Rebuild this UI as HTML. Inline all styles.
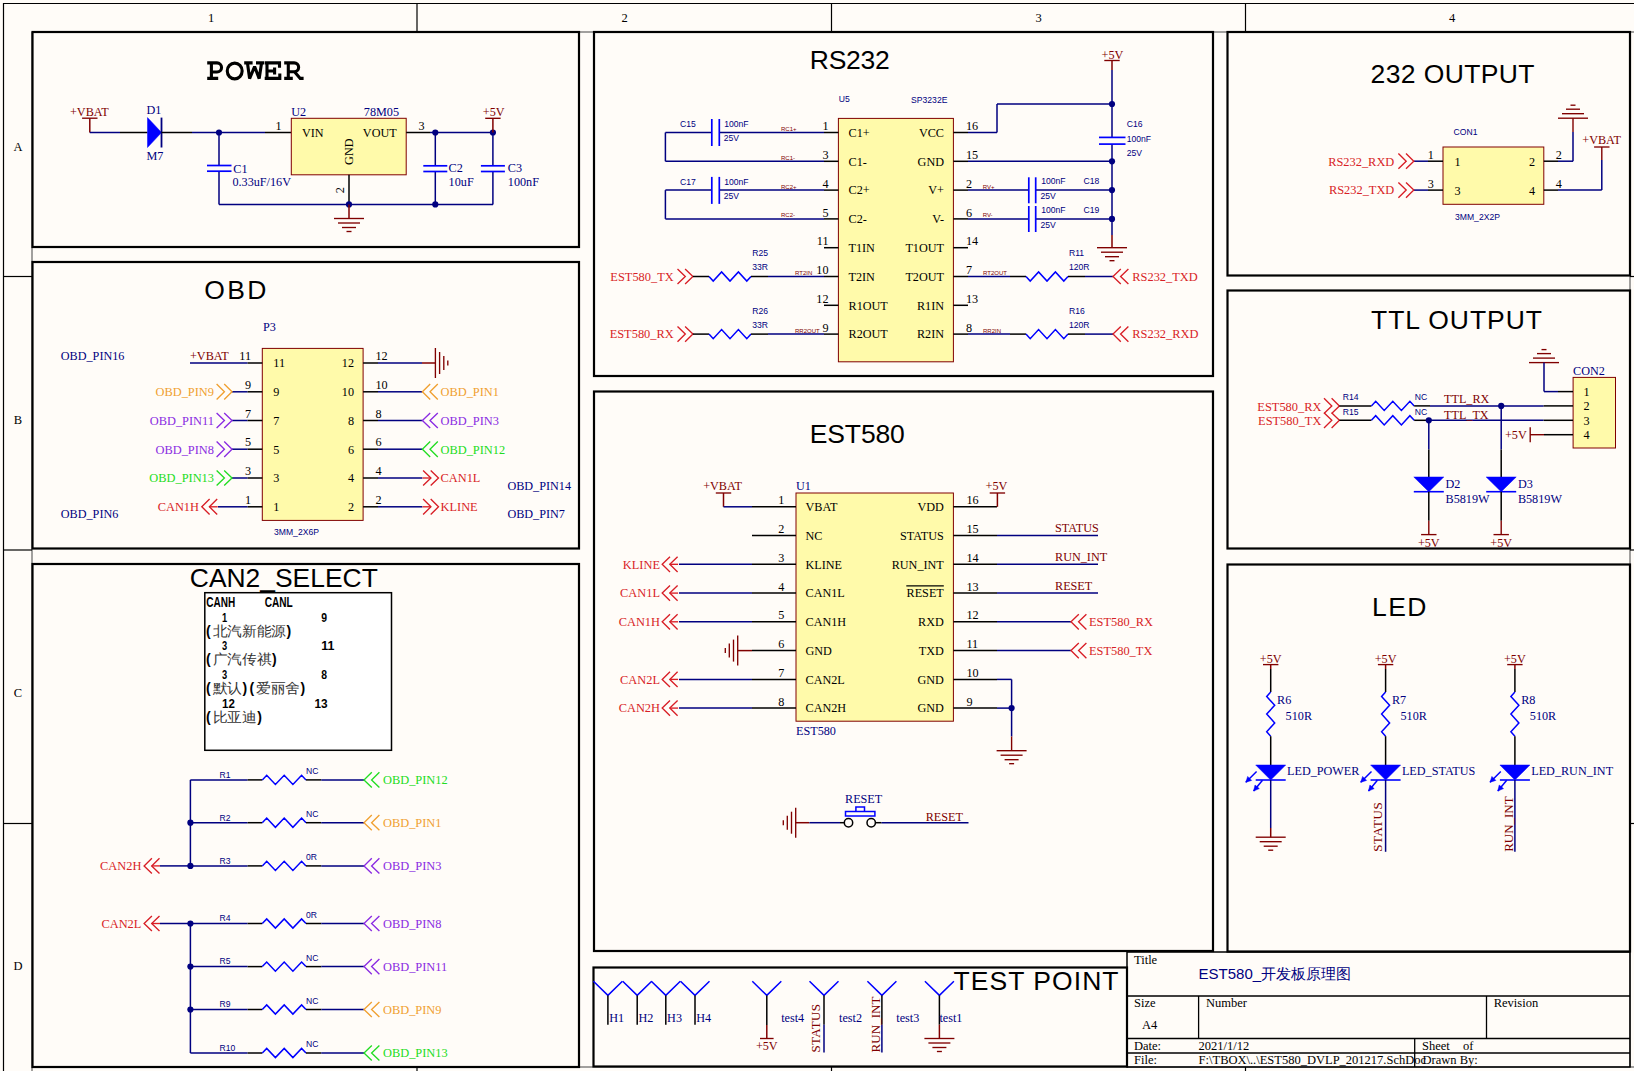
<!DOCTYPE html>
<html><head><meta charset="utf-8"><style>
html,body{margin:0;padding:0;background:#FFFCF8;overflow:hidden;}
svg{display:block;}
</style></head><body>
<svg width="1634" height="1071" viewBox="0 0 1634 1071">
<rect x="0" y="0" width="1634" height="1071" fill="#FFFCF8"/>
<line x1="3.0" y1="3.5" x2="1634.0" y2="3.5" stroke="#000000" stroke-width="1.2" />
<line x1="3.5" y1="3.0" x2="3.5" y2="1071.0" stroke="#000000" stroke-width="1.2" />
<line x1="32.0" y1="32.0" x2="1634.0" y2="32.0" stroke="#444" stroke-width="1" />
<line x1="32.0" y1="32.0" x2="32.0" y2="1071.0" stroke="#444" stroke-width="1" />
<line x1="32.0" y1="1067.0" x2="1634.0" y2="1067.0" stroke="#444" stroke-width="1" />
<line x1="417.0" y1="3.0" x2="417.0" y2="32.0" stroke="#000000" stroke-width="1.2" />
<line x1="417.0" y1="1067.0" x2="417.0" y2="1071.0" stroke="#000000" stroke-width="1.2" />
<line x1="831.5" y1="3.0" x2="831.5" y2="32.0" stroke="#000000" stroke-width="1.2" />
<line x1="831.5" y1="1067.0" x2="831.5" y2="1071.0" stroke="#000000" stroke-width="1.2" />
<line x1="1245.5" y1="3.0" x2="1245.5" y2="32.0" stroke="#000000" stroke-width="1.2" />
<line x1="1245.5" y1="1067.0" x2="1245.5" y2="1071.0" stroke="#000000" stroke-width="1.2" />
<line x1="1630.0" y1="32.0" x2="1630.0" y2="1067.0" stroke="#444" stroke-width="1" />
<line x1="3.0" y1="276.5" x2="32.0" y2="276.5" stroke="#000000" stroke-width="1.2" />
<line x1="1630.0" y1="276.5" x2="1634.0" y2="276.5" stroke="#000000" stroke-width="1.2" />
<line x1="3.0" y1="550.0" x2="32.0" y2="550.0" stroke="#000000" stroke-width="1.2" />
<line x1="1630.0" y1="550.0" x2="1634.0" y2="550.0" stroke="#000000" stroke-width="1.2" />
<line x1="3.0" y1="823.5" x2="32.0" y2="823.5" stroke="#000000" stroke-width="1.2" />
<line x1="1630.0" y1="823.5" x2="1634.0" y2="823.5" stroke="#000000" stroke-width="1.2" />
<text x="211.0" y="22.0" font-family="'Liberation Serif', serif" font-size="12.5" fill="#000000" text-anchor="middle" >1</text>
<text x="624.5" y="22.0" font-family="'Liberation Serif', serif" font-size="12.5" fill="#000000" text-anchor="middle" >2</text>
<text x="1038.5" y="22.0" font-family="'Liberation Serif', serif" font-size="12.5" fill="#000000" text-anchor="middle" >3</text>
<text x="1452.0" y="22.0" font-family="'Liberation Serif', serif" font-size="12.5" fill="#000000" text-anchor="middle" >4</text>
<text x="18.0" y="150.8" font-family="'Liberation Serif', serif" font-size="12.5" fill="#000000" text-anchor="middle" >A</text>
<text x="18.0" y="424.0" font-family="'Liberation Serif', serif" font-size="12.5" fill="#000000" text-anchor="middle" >B</text>
<text x="18.0" y="697.0" font-family="'Liberation Serif', serif" font-size="12.5" fill="#000000" text-anchor="middle" >C</text>
<text x="18.0" y="970.0" font-family="'Liberation Serif', serif" font-size="12.5" fill="#000000" text-anchor="middle" >D</text>
<rect x="32.5" y="32.0" width="546.5" height="215.0" stroke="#000000" stroke-width="2.2" fill="none"/>
<rect x="32.5" y="262.0" width="546.5" height="286.5" stroke="#000000" stroke-width="2.2" fill="none"/>
<rect x="32.5" y="564.0" width="546.5" height="503.0" stroke="#000000" stroke-width="2.2" fill="none"/>
<rect x="594.0" y="32.0" width="619.0" height="344.0" stroke="#000000" stroke-width="2.2" fill="none"/>
<rect x="594.0" y="391.5" width="619.0" height="559.5" stroke="#000000" stroke-width="2.2" fill="none"/>
<rect x="593.5" y="967.5" width="533.5" height="99.0" stroke="#000000" stroke-width="2.2" fill="none"/>
<rect x="1227.5" y="32.0" width="402.5" height="243.5" stroke="#000000" stroke-width="2.2" fill="none"/>
<rect x="1227.5" y="290.5" width="402.5" height="258.0" stroke="#000000" stroke-width="2.2" fill="none"/>
<rect x="1227.5" y="564.5" width="402.5" height="387.0" stroke="#000000" stroke-width="2.2" fill="none"/>
<g fill="none" stroke="#000" stroke-width="3.1" stroke-linecap="butt" stroke-linejoin="miter"><path d="M207.2,62.9 H217 A4.55,4.55 0 0 1 217,72 H211.4 M211.4,62.9 V78.4 M207.2,78.4 H218.2"/><ellipse cx="234.7" cy="71" rx="7.45" ry="7.9"/><path stroke-linejoin="bevel" d="M247.6,64 L249.6,78.6 L254.6,66.6 L259.2,78.6 L261.4,64 M244.2,62.9 H252.6 M256,62.9 H264.1"/><path d="M264.7,62.9 H279.5 V67.8 M267,62.9 V78.4 M268.5,71 H274.6 M274.6,67.4 V74.4 M264.7,78.4 H279.8 V73.6"/><path d="M284.2,62.9 H294.2 A4.45,4.45 0 0 1 294.2,71.8 H288.3 M288.3,62.9 V78.4 M284.2,78.4 H292.8 M294.5,71.8 L300.2,78.4 H303.6"/></g>
<text x="204.3" y="299.2" font-family="'Liberation Sans', sans-serif" font-size="26.5" fill="#000000" text-anchor="start" textLength="62" lengthAdjust="spacing" >OBD</text>
<text x="189.8" y="587.4" font-family="'Liberation Sans', sans-serif" font-size="26.5" fill="#000000" text-anchor="start" textLength="188" lengthAdjust="spacingAndGlyphs" >CAN2_SELECT</text>
<text x="809.8" y="69.2" font-family="'Liberation Sans', sans-serif" font-size="26.5" fill="#000000" text-anchor="start" textLength="80" lengthAdjust="spacing" >RS232</text>
<text x="1370.5" y="83.2" font-family="'Liberation Sans', sans-serif" font-size="26.5" fill="#000000" text-anchor="start" textLength="164" lengthAdjust="spacing" >232 OUTPUT</text>
<text x="1371.0" y="328.7" font-family="'Liberation Sans', sans-serif" font-size="26.5" fill="#000000" text-anchor="start" textLength="171" lengthAdjust="spacing" >TTL OUTPUT</text>
<text x="809.8" y="443.2" font-family="'Liberation Sans', sans-serif" font-size="26.5" fill="#000000" text-anchor="start" textLength="95" lengthAdjust="spacing" >EST580</text>
<text x="1372.0" y="615.6" font-family="'Liberation Sans', sans-serif" font-size="26.5" fill="#000000" text-anchor="start" textLength="54.5" lengthAdjust="spacing" >LED</text>
<text x="953.5" y="989.7" font-family="'Liberation Sans', sans-serif" font-size="26.5" fill="#000000" text-anchor="start" textLength="165" lengthAdjust="spacing" >TEST POINT</text>
<text x="70.0" y="115.7" font-family="'Liberation Serif', serif" font-size="12.2" fill="#800000" text-anchor="start" >+VBAT</text>
<line x1="82.1" y1="118.2" x2="97.5" y2="118.2" stroke="#800000" stroke-width="1.35" />
<line x1="89.8" y1="118.2" x2="89.8" y2="132.5" stroke="#800000" stroke-width="1.5" />
<line x1="89.8" y1="132.5" x2="120.0" y2="132.5" stroke="#000080" stroke-width="1.5" />
<line x1="120.0" y1="132.5" x2="147.5" y2="132.5" stroke="#000000" stroke-width="1.5" />
<polygon points="147.5,117.6 147.5,147.5 161.5,132.5" stroke="#0000FF" stroke-width="0.5" fill="#0000FF" stroke-linejoin="miter"/>
<line x1="161.5" y1="117.6" x2="161.5" y2="147.5" stroke="#000080" stroke-width="1.8" />
<line x1="161.5" y1="132.5" x2="192.0" y2="132.5" stroke="#000000" stroke-width="1.5" />
<line x1="192.0" y1="132.5" x2="265.0" y2="132.5" stroke="#000080" stroke-width="1.5" />
<line x1="265.0" y1="132.5" x2="291.3" y2="132.5" stroke="#000000" stroke-width="1.5" />
<text x="146.5" y="113.9" font-family="'Liberation Serif', serif" font-size="12.2" fill="#000080" text-anchor="start" >D1</text>
<text x="146.5" y="159.6" font-family="'Liberation Serif', serif" font-size="12.2" fill="#000080" text-anchor="start" >M7</text>
<circle cx="219.0" cy="132.5" r="3.1" fill="#000080"/>
<line x1="219.0" y1="132.5" x2="219.0" y2="165.5" stroke="#000080" stroke-width="1.5" />
<line x1="219.0" y1="171.2" x2="219.0" y2="204.4" stroke="#000080" stroke-width="1.5" />
<line x1="207.0" y1="165.5" x2="231.5" y2="165.5" stroke="#0000FF" stroke-width="1.7" />
<line x1="207.0" y1="171.2" x2="231.5" y2="171.2" stroke="#0000FF" stroke-width="1.7" />
<text x="233.3" y="172.7" font-family="'Liberation Serif', serif" font-size="12.2" fill="#000080" text-anchor="start" >C1</text>
<text x="232.4" y="185.7" font-family="'Liberation Serif', serif" font-size="12.2" fill="#000080" text-anchor="start" >0.33uF/16V</text>
<rect x="291.3" y="118.3" width="114.9" height="56.5" stroke="#800000" stroke-width="1.0" fill="#FFFAAA"/>
<text x="291.3" y="115.7" font-family="'Liberation Serif', serif" font-size="12.2" fill="#000080" text-anchor="start" >U2</text>
<text x="363.8" y="115.7" font-family="'Liberation Serif', serif" font-size="12.2" fill="#000080" text-anchor="start" >78M05</text>
<text x="302.0" y="136.8" font-family="'Liberation Serif', serif" font-size="12.2" fill="#000000" text-anchor="start" >VIN</text>
<text x="396.7" y="136.8" font-family="'Liberation Serif', serif" font-size="12.2" fill="#000000" text-anchor="end" >VOUT</text>
<text x="352.7" y="151.7" font-family="'Liberation Serif', serif" font-size="12.2" fill="#000000" text-anchor="middle" transform="rotate(-90 352.7 151.7)" >GND</text>
<text x="275.6" y="129.8" font-family="'Liberation Serif', serif" font-size="12.2" fill="#000000" text-anchor="start" >1</text>
<text x="418.6" y="129.8" font-family="'Liberation Serif', serif" font-size="12.2" fill="#000000" text-anchor="start" >3</text>
<line x1="406.2" y1="132.5" x2="430.0" y2="132.5" stroke="#000000" stroke-width="1.5" />
<line x1="430.0" y1="132.5" x2="493.0" y2="132.5" stroke="#000080" stroke-width="1.5" />
<line x1="349.0" y1="174.8" x2="349.0" y2="204.4" stroke="#000000" stroke-width="1.5" />
<text x="344.5" y="190.2" font-family="'Liberation Serif', serif" font-size="12.2" fill="#000000" text-anchor="middle" transform="rotate(-90 344.5 190.2)" >2</text>
<line x1="219.0" y1="204.4" x2="493.0" y2="204.4" stroke="#000080" stroke-width="1.5" />
<circle cx="349.0" cy="204.4" r="3.1" fill="#000080"/>
<circle cx="435.3" cy="132.5" r="3.1" fill="#000080"/>
<circle cx="435.3" cy="204.4" r="3.1" fill="#000080"/>
<circle cx="492.9" cy="132.5" r="3.1" fill="#000080"/>
<line x1="435.3" y1="132.5" x2="435.3" y2="165.8" stroke="#000080" stroke-width="1.5" />
<line x1="435.3" y1="171.5" x2="435.3" y2="204.4" stroke="#000080" stroke-width="1.5" />
<line x1="423.3" y1="165.8" x2="447.3" y2="165.8" stroke="#0000FF" stroke-width="1.7" />
<line x1="423.3" y1="171.5" x2="447.3" y2="171.5" stroke="#0000FF" stroke-width="1.7" />
<line x1="492.9" y1="132.5" x2="492.9" y2="165.8" stroke="#000080" stroke-width="1.5" />
<line x1="492.9" y1="171.5" x2="492.9" y2="204.4" stroke="#000080" stroke-width="1.5" />
<line x1="480.9" y1="165.8" x2="504.9" y2="165.8" stroke="#0000FF" stroke-width="1.7" />
<line x1="480.9" y1="171.5" x2="504.9" y2="171.5" stroke="#0000FF" stroke-width="1.7" />
<text x="448.6" y="172.3" font-family="'Liberation Serif', serif" font-size="12.2" fill="#000080" text-anchor="start" >C2</text>
<text x="448.6" y="185.6" font-family="'Liberation Serif', serif" font-size="12.2" fill="#000080" text-anchor="start" >10uF</text>
<text x="507.8" y="172.3" font-family="'Liberation Serif', serif" font-size="12.2" fill="#000080" text-anchor="start" >C3</text>
<text x="507.8" y="185.6" font-family="'Liberation Serif', serif" font-size="12.2" fill="#000080" text-anchor="start" >100nF</text>
<text x="482.8" y="115.7" font-family="'Liberation Serif', serif" font-size="12.2" fill="#800000" text-anchor="start" >+5V</text>
<line x1="485.2" y1="118.3" x2="500.6" y2="118.3" stroke="#800000" stroke-width="1.35" />
<line x1="492.9" y1="118.3" x2="492.9" y2="132.5" stroke="#800000" stroke-width="1.5" />
<line x1="349.0" y1="204.4" x2="349.0" y2="218.5" stroke="#800000" stroke-width="1.5" />
<line x1="334.0" y1="218.5" x2="364.0" y2="218.5" stroke="#800000" stroke-width="1.35" />
<line x1="338.0" y1="223.0" x2="360.0" y2="223.0" stroke="#800000" stroke-width="1.35" />
<line x1="342.0" y1="227.5" x2="356.0" y2="227.5" stroke="#800000" stroke-width="1.35" />
<line x1="346.5" y1="231.5" x2="351.5" y2="231.5" stroke="#800000" stroke-width="1.35" />
<text x="263.0" y="331.0" font-family="'Liberation Serif', serif" font-size="12.2" fill="#000080" text-anchor="start" >P3</text>
<rect x="262.3" y="348.4" width="100.8" height="172.0" stroke="#800000" stroke-width="1.0" fill="#FFFAAA"/>
<line x1="232.0" y1="363.0" x2="247.6" y2="363.0" stroke="#000080" stroke-width="1.5" />
<line x1="247.6" y1="363.0" x2="262.3" y2="363.0" stroke="#000000" stroke-width="1.5" />
<line x1="363.1" y1="363.0" x2="378.0" y2="363.0" stroke="#000000" stroke-width="1.5" />
<line x1="378.0" y1="363.0" x2="393.0" y2="363.0" stroke="#000080" stroke-width="1.5" />
<text x="251.0" y="360.0" font-family="'Liberation Serif', serif" font-size="12.2" fill="#000000" text-anchor="end" >11</text>
<text x="375.4" y="360.0" font-family="'Liberation Serif', serif" font-size="12.2" fill="#000000" text-anchor="start" >12</text>
<text x="273.3" y="367.3" font-family="'Liberation Serif', serif" font-size="12.2" fill="#000000" text-anchor="start" >11</text>
<text x="354.0" y="367.3" font-family="'Liberation Serif', serif" font-size="12.2" fill="#000000" text-anchor="end" >12</text>
<line x1="232.0" y1="391.8" x2="247.6" y2="391.8" stroke="#000080" stroke-width="1.5" />
<line x1="247.6" y1="391.8" x2="262.3" y2="391.8" stroke="#000000" stroke-width="1.5" />
<line x1="363.1" y1="391.8" x2="378.0" y2="391.8" stroke="#000000" stroke-width="1.5" />
<line x1="378.0" y1="391.8" x2="393.0" y2="391.8" stroke="#000080" stroke-width="1.5" />
<text x="251.0" y="388.8" font-family="'Liberation Serif', serif" font-size="12.2" fill="#000000" text-anchor="end" >9</text>
<text x="375.4" y="388.8" font-family="'Liberation Serif', serif" font-size="12.2" fill="#000000" text-anchor="start" >10</text>
<text x="273.3" y="396.1" font-family="'Liberation Serif', serif" font-size="12.2" fill="#000000" text-anchor="start" >9</text>
<text x="354.0" y="396.1" font-family="'Liberation Serif', serif" font-size="12.2" fill="#000000" text-anchor="end" >10</text>
<line x1="232.0" y1="420.5" x2="247.6" y2="420.5" stroke="#000080" stroke-width="1.5" />
<line x1="247.6" y1="420.5" x2="262.3" y2="420.5" stroke="#000000" stroke-width="1.5" />
<line x1="363.1" y1="420.5" x2="378.0" y2="420.5" stroke="#000000" stroke-width="1.5" />
<line x1="378.0" y1="420.5" x2="393.0" y2="420.5" stroke="#000080" stroke-width="1.5" />
<text x="251.0" y="417.5" font-family="'Liberation Serif', serif" font-size="12.2" fill="#000000" text-anchor="end" >7</text>
<text x="375.4" y="417.5" font-family="'Liberation Serif', serif" font-size="12.2" fill="#000000" text-anchor="start" >8</text>
<text x="273.3" y="424.8" font-family="'Liberation Serif', serif" font-size="12.2" fill="#000000" text-anchor="start" >7</text>
<text x="354.0" y="424.8" font-family="'Liberation Serif', serif" font-size="12.2" fill="#000000" text-anchor="end" >8</text>
<line x1="232.0" y1="449.2" x2="247.6" y2="449.2" stroke="#000080" stroke-width="1.5" />
<line x1="247.6" y1="449.2" x2="262.3" y2="449.2" stroke="#000000" stroke-width="1.5" />
<line x1="363.1" y1="449.2" x2="378.0" y2="449.2" stroke="#000000" stroke-width="1.5" />
<line x1="378.0" y1="449.2" x2="393.0" y2="449.2" stroke="#000080" stroke-width="1.5" />
<text x="251.0" y="446.2" font-family="'Liberation Serif', serif" font-size="12.2" fill="#000000" text-anchor="end" >5</text>
<text x="375.4" y="446.2" font-family="'Liberation Serif', serif" font-size="12.2" fill="#000000" text-anchor="start" >6</text>
<text x="273.3" y="453.6" font-family="'Liberation Serif', serif" font-size="12.2" fill="#000000" text-anchor="start" >5</text>
<text x="354.0" y="453.6" font-family="'Liberation Serif', serif" font-size="12.2" fill="#000000" text-anchor="end" >6</text>
<line x1="232.0" y1="478.0" x2="247.6" y2="478.0" stroke="#000080" stroke-width="1.5" />
<line x1="247.6" y1="478.0" x2="262.3" y2="478.0" stroke="#000000" stroke-width="1.5" />
<line x1="363.1" y1="478.0" x2="378.0" y2="478.0" stroke="#000000" stroke-width="1.5" />
<line x1="378.0" y1="478.0" x2="393.0" y2="478.0" stroke="#000080" stroke-width="1.5" />
<text x="251.0" y="475.0" font-family="'Liberation Serif', serif" font-size="12.2" fill="#000000" text-anchor="end" >3</text>
<text x="375.4" y="475.0" font-family="'Liberation Serif', serif" font-size="12.2" fill="#000000" text-anchor="start" >4</text>
<text x="273.3" y="482.3" font-family="'Liberation Serif', serif" font-size="12.2" fill="#000000" text-anchor="start" >3</text>
<text x="354.0" y="482.3" font-family="'Liberation Serif', serif" font-size="12.2" fill="#000000" text-anchor="end" >4</text>
<line x1="232.0" y1="506.8" x2="247.6" y2="506.8" stroke="#000080" stroke-width="1.5" />
<line x1="247.6" y1="506.8" x2="262.3" y2="506.8" stroke="#000000" stroke-width="1.5" />
<line x1="363.1" y1="506.8" x2="378.0" y2="506.8" stroke="#000000" stroke-width="1.5" />
<line x1="378.0" y1="506.8" x2="393.0" y2="506.8" stroke="#000080" stroke-width="1.5" />
<text x="251.0" y="503.8" font-family="'Liberation Serif', serif" font-size="12.2" fill="#000000" text-anchor="end" >1</text>
<text x="375.4" y="503.8" font-family="'Liberation Serif', serif" font-size="12.2" fill="#000000" text-anchor="start" >2</text>
<text x="273.3" y="511.1" font-family="'Liberation Serif', serif" font-size="12.2" fill="#000000" text-anchor="start" >1</text>
<text x="354.0" y="511.1" font-family="'Liberation Serif', serif" font-size="12.2" fill="#000000" text-anchor="end" >2</text>
<line x1="190.0" y1="363.0" x2="232.0" y2="363.0" stroke="#000080" stroke-width="1.5" />
<text x="190.0" y="360.0" font-family="'Liberation Serif', serif" font-size="12.2" fill="#800000" text-anchor="start" >+VBAT</text>
<line x1="393.0" y1="363.0" x2="422.0" y2="363.0" stroke="#000080" stroke-width="1.5" />
<line x1="422.0" y1="363.0" x2="435.4" y2="363.0" stroke="#800000" stroke-width="1.5" />
<line x1="435.4" y1="348.0" x2="435.4" y2="378.0" stroke="#800000" stroke-width="1.35" />
<line x1="439.6" y1="352.0" x2="439.6" y2="374.0" stroke="#800000" stroke-width="1.35" />
<line x1="443.8" y1="356.0" x2="443.8" y2="370.0" stroke="#800000" stroke-width="1.35" />
<line x1="447.8" y1="360.5" x2="447.8" y2="365.5" stroke="#800000" stroke-width="1.35" />
<polyline points="224.2,384.1 232.0,391.8 224.2,399.4" stroke="#F0A030" stroke-width="1.35" fill="none" stroke-linejoin="miter"/>
<polyline points="216.6,384.1 224.4,391.8 216.6,399.4" stroke="#F0A030" stroke-width="1.35" fill="none" stroke-linejoin="miter"/>
<text x="214.0" y="396.1" font-family="'Liberation Serif', serif" font-size="12.4" fill="#F0A030" text-anchor="end" >OBD_PIN9</text>
<polyline points="224.2,412.9 232.0,420.5 224.2,428.1" stroke="#8A2BE2" stroke-width="1.35" fill="none" stroke-linejoin="miter"/>
<polyline points="216.6,412.9 224.4,420.5 216.6,428.1" stroke="#8A2BE2" stroke-width="1.35" fill="none" stroke-linejoin="miter"/>
<text x="214.0" y="424.8" font-family="'Liberation Serif', serif" font-size="12.4" fill="#8A2BE2" text-anchor="end" >OBD_PIN11</text>
<polyline points="224.2,441.6 232.0,449.2 224.2,456.9" stroke="#8A2BE2" stroke-width="1.35" fill="none" stroke-linejoin="miter"/>
<polyline points="216.6,441.6 224.4,449.2 216.6,456.9" stroke="#8A2BE2" stroke-width="1.35" fill="none" stroke-linejoin="miter"/>
<text x="214.0" y="453.6" font-family="'Liberation Serif', serif" font-size="12.4" fill="#8A2BE2" text-anchor="end" >OBD_PIN8</text>
<polyline points="224.2,470.4 232.0,478.0 224.2,485.6" stroke="#22DD22" stroke-width="1.35" fill="none" stroke-linejoin="miter"/>
<polyline points="216.6,470.4 224.4,478.0 216.6,485.6" stroke="#22DD22" stroke-width="1.35" fill="none" stroke-linejoin="miter"/>
<text x="214.0" y="482.3" font-family="'Liberation Serif', serif" font-size="12.4" fill="#22DD22" text-anchor="end" >OBD_PIN13</text>
<polyline points="209.6,499.1 201.8,506.8 209.6,514.4" stroke="#D81E26" stroke-width="1.35" fill="none" stroke-linejoin="miter"/>
<polyline points="217.2,499.1 209.4,506.8 217.2,514.4" stroke="#D81E26" stroke-width="1.35" fill="none" stroke-linejoin="miter"/>
<line x1="209.4" y1="506.8" x2="217.7" y2="506.8" stroke="#D81E26" stroke-width="1.35" />
<line x1="218.0" y1="506.8" x2="232.0" y2="506.8" stroke="#000080" stroke-width="1.5" />
<text x="199.0" y="511.1" font-family="'Liberation Serif', serif" font-size="12.4" fill="#D81E26" text-anchor="end" >CAN1H</text>
<line x1="393.0" y1="391.8" x2="422.4" y2="391.8" stroke="#000080" stroke-width="1.5" />
<polyline points="430.2,384.1 422.4,391.8 430.2,399.4" stroke="#F0A030" stroke-width="1.35" fill="none" stroke-linejoin="miter"/>
<polyline points="437.8,384.1 430.0,391.8 437.8,399.4" stroke="#F0A030" stroke-width="1.35" fill="none" stroke-linejoin="miter"/>
<text x="440.5" y="396.1" font-family="'Liberation Serif', serif" font-size="12.4" fill="#F0A030" text-anchor="start" >OBD_PIN1</text>
<line x1="393.0" y1="420.5" x2="422.4" y2="420.5" stroke="#000080" stroke-width="1.5" />
<polyline points="430.2,412.9 422.4,420.5 430.2,428.1" stroke="#8A2BE2" stroke-width="1.35" fill="none" stroke-linejoin="miter"/>
<polyline points="437.8,412.9 430.0,420.5 437.8,428.1" stroke="#8A2BE2" stroke-width="1.35" fill="none" stroke-linejoin="miter"/>
<text x="440.5" y="424.8" font-family="'Liberation Serif', serif" font-size="12.4" fill="#8A2BE2" text-anchor="start" >OBD_PIN3</text>
<line x1="393.0" y1="449.2" x2="422.4" y2="449.2" stroke="#000080" stroke-width="1.5" />
<polyline points="430.2,441.6 422.4,449.2 430.2,456.9" stroke="#22DD22" stroke-width="1.35" fill="none" stroke-linejoin="miter"/>
<polyline points="437.8,441.6 430.0,449.2 437.8,456.9" stroke="#22DD22" stroke-width="1.35" fill="none" stroke-linejoin="miter"/>
<text x="440.5" y="453.6" font-family="'Liberation Serif', serif" font-size="12.4" fill="#22DD22" text-anchor="start" >OBD_PIN12</text>
<line x1="393.0" y1="478.0" x2="422.4" y2="478.0" stroke="#000080" stroke-width="1.5" />
<polyline points="430.7,470.4 438.5,478.0 430.7,485.6" stroke="#D81E26" stroke-width="1.35" fill="none" stroke-linejoin="miter"/>
<polyline points="423.1,470.4 430.9,478.0 423.1,485.6" stroke="#D81E26" stroke-width="1.35" fill="none" stroke-linejoin="miter"/>
<line x1="422.6" y1="478.0" x2="430.9" y2="478.0" stroke="#D81E26" stroke-width="1.35" />
<text x="440.5" y="482.3" font-family="'Liberation Serif', serif" font-size="12.4" fill="#D81E26" text-anchor="start" >CAN1L</text>
<line x1="393.0" y1="506.8" x2="422.4" y2="506.8" stroke="#000080" stroke-width="1.5" />
<polyline points="430.7,499.1 438.5,506.8 430.7,514.4" stroke="#D81E26" stroke-width="1.35" fill="none" stroke-linejoin="miter"/>
<polyline points="423.1,499.1 430.9,506.8 423.1,514.4" stroke="#D81E26" stroke-width="1.35" fill="none" stroke-linejoin="miter"/>
<line x1="422.6" y1="506.8" x2="430.9" y2="506.8" stroke="#D81E26" stroke-width="1.35" />
<text x="440.5" y="511.1" font-family="'Liberation Serif', serif" font-size="12.4" fill="#D81E26" text-anchor="start" >KLINE</text>
<text x="60.8" y="360.0" font-family="'Liberation Serif', serif" font-size="12.2" fill="#000080" text-anchor="start" >OBD_PIN16</text>
<text x="60.8" y="517.7" font-family="'Liberation Serif', serif" font-size="12.2" fill="#000080" text-anchor="start" >OBD_PIN6</text>
<text x="507.4" y="489.6" font-family="'Liberation Serif', serif" font-size="12.2" fill="#000080" text-anchor="start" >OBD_PIN14</text>
<text x="507.4" y="517.7" font-family="'Liberation Serif', serif" font-size="12.2" fill="#000080" text-anchor="start" >OBD_PIN7</text>
<text x="274.0" y="535.0" font-family="'Liberation Sans', sans-serif" font-size="8.6" fill="#000080" text-anchor="start" >3MM_2X6P</text>
<rect x="204.8" y="592.7" width="186.7" height="157.6" stroke="#000000" stroke-width="1.5" fill="#FFFFFF"/>
<text x="206.2" y="607.2" font-family="'Liberation Sans', sans-serif" font-size="14.3" fill="#000000" text-anchor="start" font-weight="bold" textLength="29" lengthAdjust="spacingAndGlyphs" >CANH</text>
<text x="264.7" y="607.2" font-family="'Liberation Sans', sans-serif" font-size="14.3" fill="#000000" text-anchor="start" font-weight="bold" textLength="28" lengthAdjust="spacingAndGlyphs" >CANL</text>
<text x="222.0" y="621.5" font-family="'Liberation Sans', sans-serif" font-size="13.5" fill="#000000" text-anchor="start" font-weight="bold" textLength="5.2" lengthAdjust="spacingAndGlyphs" >1</text>
<text x="321.3" y="621.5" font-family="'Liberation Sans', sans-serif" font-size="13.5" fill="#000000" text-anchor="start" font-weight="bold" textLength="5.8" lengthAdjust="spacingAndGlyphs" >9</text>
<text x="222.0" y="650.0" font-family="'Liberation Sans', sans-serif" font-size="13.5" fill="#000000" text-anchor="start" font-weight="bold" textLength="5.2" lengthAdjust="spacingAndGlyphs" >3</text>
<text x="321.3" y="650.0" font-family="'Liberation Sans', sans-serif" font-size="13.5" fill="#000000" text-anchor="start" font-weight="bold" textLength="13.2" lengthAdjust="spacingAndGlyphs" >11</text>
<text x="222.0" y="679.0" font-family="'Liberation Sans', sans-serif" font-size="13.5" fill="#000000" text-anchor="start" font-weight="bold" textLength="5.2" lengthAdjust="spacingAndGlyphs" >3</text>
<text x="321.3" y="679.0" font-family="'Liberation Sans', sans-serif" font-size="13.5" fill="#000000" text-anchor="start" font-weight="bold" textLength="5.8" lengthAdjust="spacingAndGlyphs" >8</text>
<text x="222.0" y="708.0" font-family="'Liberation Sans', sans-serif" font-size="13.5" fill="#000000" text-anchor="start" font-weight="bold" textLength="12.8" lengthAdjust="spacingAndGlyphs" >12</text>
<text x="314.4" y="708.0" font-family="'Liberation Sans', sans-serif" font-size="13.5" fill="#000000" text-anchor="start" font-weight="bold" textLength="13.2" lengthAdjust="spacingAndGlyphs" >13</text>
<text x="206.0" y="635.5" font-family="'Liberation Sans', sans-serif" font-size="14" fill="#000000" text-anchor="start" font-weight="bold" >(</text>
<text x="212.6" y="635.5" font-family="'Liberation Sans', sans-serif" font-size="14" fill="#333" text-anchor="start" textLength="73.5" lengthAdjust="spacingAndGlyphs" >北汽新能源</text>
<text x="286.6" y="635.5" font-family="'Liberation Sans', sans-serif" font-size="14" fill="#000000" text-anchor="start" font-weight="bold" >)</text>
<text x="206.0" y="664.3" font-family="'Liberation Sans', sans-serif" font-size="14" fill="#000000" text-anchor="start" font-weight="bold" >(</text>
<text x="212.6" y="664.3" font-family="'Liberation Sans', sans-serif" font-size="14" fill="#333" text-anchor="start" textLength="58.8" lengthAdjust="spacingAndGlyphs" >广汽传祺</text>
<text x="271.9" y="664.3" font-family="'Liberation Sans', sans-serif" font-size="14" fill="#000000" text-anchor="start" font-weight="bold" >)</text>
<text x="206.0" y="693.0" font-family="'Liberation Sans', sans-serif" font-size="14" fill="#000000" text-anchor="start" font-weight="bold" >(</text>
<text x="212.6" y="693.0" font-family="'Liberation Sans', sans-serif" font-size="14" fill="#333" text-anchor="start" textLength="29.4" lengthAdjust="spacingAndGlyphs" >默认</text>
<text x="242.5" y="693.0" font-family="'Liberation Sans', sans-serif" font-size="14" fill="#000000" text-anchor="start" font-weight="bold" >)</text>
<text x="249.4" y="693.0" font-family="'Liberation Sans', sans-serif" font-size="14" fill="#000000" text-anchor="start" font-weight="bold" >(</text>
<text x="256.0" y="693.0" font-family="'Liberation Sans', sans-serif" font-size="14" fill="#333" text-anchor="start" textLength="44.099999999999994" lengthAdjust="spacingAndGlyphs" >爱丽舍</text>
<text x="300.6" y="693.0" font-family="'Liberation Sans', sans-serif" font-size="14" fill="#000000" text-anchor="start" font-weight="bold" >)</text>
<text x="206.0" y="721.8" font-family="'Liberation Sans', sans-serif" font-size="14" fill="#000000" text-anchor="start" font-weight="bold" >(</text>
<text x="212.6" y="721.8" font-family="'Liberation Sans', sans-serif" font-size="14" fill="#333" text-anchor="start" textLength="44.099999999999994" lengthAdjust="spacingAndGlyphs" >比亚迪</text>
<text x="257.2" y="721.8" font-family="'Liberation Sans', sans-serif" font-size="14" fill="#000000" text-anchor="start" font-weight="bold" >)</text>
<line x1="190.4" y1="779.9" x2="247.6" y2="779.9" stroke="#000080" stroke-width="1.5" />
<line x1="247.6" y1="779.9" x2="262.3" y2="779.9" stroke="#000000" stroke-width="1.5" />
<polyline points="262.3,779.9 266.7,775.3 275.4,784.5 284.2,775.3 292.9,784.5 301.6,775.3 306.0,779.9" stroke="#0000FF" stroke-width="1.5" fill="none" stroke-linejoin="miter"/>
<line x1="306.0" y1="779.9" x2="321.3" y2="779.9" stroke="#000000" stroke-width="1.5" />
<line x1="321.3" y1="779.9" x2="364.0" y2="779.9" stroke="#000080" stroke-width="1.5" />
<polyline points="371.8,772.3 364.0,779.9 371.8,787.5" stroke="#22DD22" stroke-width="1.35" fill="none" stroke-linejoin="miter"/>
<polyline points="379.4,772.3 371.6,779.9 379.4,787.5" stroke="#22DD22" stroke-width="1.35" fill="none" stroke-linejoin="miter"/>
<text x="383.0" y="784.2" font-family="'Liberation Serif', serif" font-size="12.4" fill="#22DD22" text-anchor="start" >OBD_PIN12</text>
<text x="219.5" y="777.7" font-family="'Liberation Sans', sans-serif" font-size="8.6" fill="#000080" text-anchor="start" >R1</text>
<text x="306.0" y="773.9" font-family="'Liberation Sans', sans-serif" font-size="8.6" fill="#000080" text-anchor="start" >NC</text>
<line x1="190.4" y1="822.7" x2="247.6" y2="822.7" stroke="#000080" stroke-width="1.5" />
<line x1="247.6" y1="822.7" x2="262.3" y2="822.7" stroke="#000000" stroke-width="1.5" />
<polyline points="262.3,822.7 266.7,818.1 275.4,827.3 284.2,818.1 292.9,827.3 301.6,818.1 306.0,822.7" stroke="#0000FF" stroke-width="1.5" fill="none" stroke-linejoin="miter"/>
<line x1="306.0" y1="822.7" x2="321.3" y2="822.7" stroke="#000000" stroke-width="1.5" />
<line x1="321.3" y1="822.7" x2="364.0" y2="822.7" stroke="#000080" stroke-width="1.5" />
<polyline points="371.8,815.1 364.0,822.7 371.8,830.3" stroke="#F0A030" stroke-width="1.35" fill="none" stroke-linejoin="miter"/>
<polyline points="379.4,815.1 371.6,822.7 379.4,830.3" stroke="#F0A030" stroke-width="1.35" fill="none" stroke-linejoin="miter"/>
<text x="383.0" y="827.0" font-family="'Liberation Serif', serif" font-size="12.4" fill="#F0A030" text-anchor="start" >OBD_PIN1</text>
<text x="219.5" y="820.5" font-family="'Liberation Sans', sans-serif" font-size="8.6" fill="#000080" text-anchor="start" >R2</text>
<text x="306.0" y="816.7" font-family="'Liberation Sans', sans-serif" font-size="8.6" fill="#000080" text-anchor="start" >NC</text>
<line x1="190.4" y1="865.9" x2="247.6" y2="865.9" stroke="#000080" stroke-width="1.5" />
<line x1="247.6" y1="865.9" x2="262.3" y2="865.9" stroke="#000000" stroke-width="1.5" />
<polyline points="262.3,865.9 266.7,861.3 275.4,870.5 284.2,861.3 292.9,870.5 301.6,861.3 306.0,865.9" stroke="#0000FF" stroke-width="1.5" fill="none" stroke-linejoin="miter"/>
<line x1="306.0" y1="865.9" x2="321.3" y2="865.9" stroke="#000000" stroke-width="1.5" />
<line x1="321.3" y1="865.9" x2="364.0" y2="865.9" stroke="#000080" stroke-width="1.5" />
<polyline points="371.8,858.3 364.0,865.9 371.8,873.5" stroke="#8A2BE2" stroke-width="1.35" fill="none" stroke-linejoin="miter"/>
<polyline points="379.4,858.3 371.6,865.9 379.4,873.5" stroke="#8A2BE2" stroke-width="1.35" fill="none" stroke-linejoin="miter"/>
<text x="383.0" y="870.2" font-family="'Liberation Serif', serif" font-size="12.4" fill="#8A2BE2" text-anchor="start" >OBD_PIN3</text>
<text x="219.5" y="863.7" font-family="'Liberation Sans', sans-serif" font-size="8.6" fill="#000080" text-anchor="start" >R3</text>
<text x="306.0" y="859.9" font-family="'Liberation Sans', sans-serif" font-size="8.6" fill="#000080" text-anchor="start" >0R</text>
<line x1="190.4" y1="923.5" x2="247.6" y2="923.5" stroke="#000080" stroke-width="1.5" />
<line x1="247.6" y1="923.5" x2="262.3" y2="923.5" stroke="#000000" stroke-width="1.5" />
<polyline points="262.3,923.5 266.7,918.9 275.4,928.1 284.2,918.9 292.9,928.1 301.6,918.9 306.0,923.5" stroke="#0000FF" stroke-width="1.5" fill="none" stroke-linejoin="miter"/>
<line x1="306.0" y1="923.5" x2="321.3" y2="923.5" stroke="#000000" stroke-width="1.5" />
<line x1="321.3" y1="923.5" x2="364.0" y2="923.5" stroke="#000080" stroke-width="1.5" />
<polyline points="371.8,915.9 364.0,923.5 371.8,931.1" stroke="#8A2BE2" stroke-width="1.35" fill="none" stroke-linejoin="miter"/>
<polyline points="379.4,915.9 371.6,923.5 379.4,931.1" stroke="#8A2BE2" stroke-width="1.35" fill="none" stroke-linejoin="miter"/>
<text x="383.0" y="927.8" font-family="'Liberation Serif', serif" font-size="12.4" fill="#8A2BE2" text-anchor="start" >OBD_PIN8</text>
<text x="219.5" y="921.3" font-family="'Liberation Sans', sans-serif" font-size="8.6" fill="#000080" text-anchor="start" >R4</text>
<text x="306.0" y="917.5" font-family="'Liberation Sans', sans-serif" font-size="8.6" fill="#000080" text-anchor="start" >0R</text>
<line x1="190.4" y1="966.6" x2="247.6" y2="966.6" stroke="#000080" stroke-width="1.5" />
<line x1="247.6" y1="966.6" x2="262.3" y2="966.6" stroke="#000000" stroke-width="1.5" />
<polyline points="262.3,966.6 266.7,962.0 275.4,971.2 284.2,962.0 292.9,971.2 301.6,962.0 306.0,966.6" stroke="#0000FF" stroke-width="1.5" fill="none" stroke-linejoin="miter"/>
<line x1="306.0" y1="966.6" x2="321.3" y2="966.6" stroke="#000000" stroke-width="1.5" />
<line x1="321.3" y1="966.6" x2="364.0" y2="966.6" stroke="#000080" stroke-width="1.5" />
<polyline points="371.8,959.0 364.0,966.6 371.8,974.2" stroke="#8A2BE2" stroke-width="1.35" fill="none" stroke-linejoin="miter"/>
<polyline points="379.4,959.0 371.6,966.6 379.4,974.2" stroke="#8A2BE2" stroke-width="1.35" fill="none" stroke-linejoin="miter"/>
<text x="383.0" y="970.9" font-family="'Liberation Serif', serif" font-size="12.4" fill="#8A2BE2" text-anchor="start" >OBD_PIN11</text>
<text x="219.5" y="964.4" font-family="'Liberation Sans', sans-serif" font-size="8.6" fill="#000080" text-anchor="start" >R5</text>
<text x="306.0" y="960.6" font-family="'Liberation Sans', sans-serif" font-size="8.6" fill="#000080" text-anchor="start" >NC</text>
<line x1="190.4" y1="1009.5" x2="247.6" y2="1009.5" stroke="#000080" stroke-width="1.5" />
<line x1="247.6" y1="1009.5" x2="262.3" y2="1009.5" stroke="#000000" stroke-width="1.5" />
<polyline points="262.3,1009.5 266.7,1004.9 275.4,1014.1 284.2,1004.9 292.9,1014.1 301.6,1004.9 306.0,1009.5" stroke="#0000FF" stroke-width="1.5" fill="none" stroke-linejoin="miter"/>
<line x1="306.0" y1="1009.5" x2="321.3" y2="1009.5" stroke="#000000" stroke-width="1.5" />
<line x1="321.3" y1="1009.5" x2="364.0" y2="1009.5" stroke="#000080" stroke-width="1.5" />
<polyline points="371.8,1001.9 364.0,1009.5 371.8,1017.1" stroke="#F0A030" stroke-width="1.35" fill="none" stroke-linejoin="miter"/>
<polyline points="379.4,1001.9 371.6,1009.5 379.4,1017.1" stroke="#F0A030" stroke-width="1.35" fill="none" stroke-linejoin="miter"/>
<text x="383.0" y="1013.8" font-family="'Liberation Serif', serif" font-size="12.4" fill="#F0A030" text-anchor="start" >OBD_PIN9</text>
<text x="219.5" y="1007.3" font-family="'Liberation Sans', sans-serif" font-size="8.6" fill="#000080" text-anchor="start" >R9</text>
<text x="306.0" y="1003.5" font-family="'Liberation Sans', sans-serif" font-size="8.6" fill="#000080" text-anchor="start" >NC</text>
<line x1="190.4" y1="1053.0" x2="247.6" y2="1053.0" stroke="#000080" stroke-width="1.5" />
<line x1="247.6" y1="1053.0" x2="262.3" y2="1053.0" stroke="#000000" stroke-width="1.5" />
<polyline points="262.3,1053.0 266.7,1048.4 275.4,1057.6 284.2,1048.4 292.9,1057.6 301.6,1048.4 306.0,1053.0" stroke="#0000FF" stroke-width="1.5" fill="none" stroke-linejoin="miter"/>
<line x1="306.0" y1="1053.0" x2="321.3" y2="1053.0" stroke="#000000" stroke-width="1.5" />
<line x1="321.3" y1="1053.0" x2="364.0" y2="1053.0" stroke="#000080" stroke-width="1.5" />
<polyline points="371.8,1045.4 364.0,1053.0 371.8,1060.6" stroke="#22DD22" stroke-width="1.35" fill="none" stroke-linejoin="miter"/>
<polyline points="379.4,1045.4 371.6,1053.0 379.4,1060.6" stroke="#22DD22" stroke-width="1.35" fill="none" stroke-linejoin="miter"/>
<text x="383.0" y="1057.3" font-family="'Liberation Serif', serif" font-size="12.4" fill="#22DD22" text-anchor="start" >OBD_PIN13</text>
<text x="219.5" y="1050.8" font-family="'Liberation Sans', sans-serif" font-size="8.6" fill="#000080" text-anchor="start" >R10</text>
<text x="306.0" y="1047.0" font-family="'Liberation Sans', sans-serif" font-size="8.6" fill="#000080" text-anchor="start" >NC</text>
<line x1="190.4" y1="779.9" x2="190.4" y2="865.9" stroke="#000080" stroke-width="1.5" />
<line x1="190.4" y1="923.5" x2="190.4" y2="1053.0" stroke="#000080" stroke-width="1.5" />
<circle cx="190.4" cy="822.7" r="3.1" fill="#000080"/>
<circle cx="190.4" cy="865.9" r="3.1" fill="#000080"/>
<circle cx="190.4" cy="923.5" r="3.1" fill="#000080"/>
<circle cx="190.4" cy="966.6" r="3.1" fill="#000080"/>
<circle cx="190.4" cy="1009.5" r="3.1" fill="#000080"/>
<polyline points="151.9,858.3 144.1,865.9 151.9,873.5" stroke="#D81E26" stroke-width="1.35" fill="none" stroke-linejoin="miter"/>
<polyline points="159.5,858.3 151.7,865.9 159.5,873.5" stroke="#D81E26" stroke-width="1.35" fill="none" stroke-linejoin="miter"/>
<line x1="151.7" y1="865.9" x2="160.0" y2="865.9" stroke="#D81E26" stroke-width="1.35" />
<line x1="160.0" y1="865.9" x2="190.4" y2="865.9" stroke="#000080" stroke-width="1.5" />
<text x="141.4" y="870.2" font-family="'Liberation Serif', serif" font-size="12.4" fill="#D81E26" text-anchor="end" >CAN2H</text>
<polyline points="151.9,915.9 144.1,923.5 151.9,931.1" stroke="#D81E26" stroke-width="1.35" fill="none" stroke-linejoin="miter"/>
<polyline points="159.5,915.9 151.7,923.5 159.5,931.1" stroke="#D81E26" stroke-width="1.35" fill="none" stroke-linejoin="miter"/>
<line x1="151.7" y1="923.5" x2="160.0" y2="923.5" stroke="#D81E26" stroke-width="1.35" />
<line x1="160.0" y1="923.5" x2="190.4" y2="923.5" stroke="#000080" stroke-width="1.5" />
<text x="141.4" y="927.8" font-family="'Liberation Serif', serif" font-size="12.4" fill="#D81E26" text-anchor="end" >CAN2L</text>
<text x="838.7" y="101.5" font-family="'Liberation Sans', sans-serif" font-size="8.6" fill="#000080" text-anchor="start" >U5</text>
<text x="911.1" y="102.8" font-family="'Liberation Sans', sans-serif" font-size="8.6" fill="#000080" text-anchor="start" >SP3232E</text>
<rect x="838.4" y="118.4" width="115.0" height="243.4" stroke="#800000" stroke-width="1.0" fill="#FFFAAA"/>
<line x1="824.0" y1="132.5" x2="838.4" y2="132.5" stroke="#000000" stroke-width="1.5" />
<line x1="953.4" y1="132.5" x2="968.0" y2="132.5" stroke="#000000" stroke-width="1.5" />
<text x="848.5" y="136.8" font-family="'Liberation Serif', serif" font-size="12.2" fill="#000000" text-anchor="start" >C1+</text>
<text x="944.0" y="136.8" font-family="'Liberation Serif', serif" font-size="12.2" fill="#000000" text-anchor="end" >VCC</text>
<text x="828.5" y="130.1" font-family="'Liberation Serif', serif" font-size="12.2" fill="#000000" text-anchor="end" >1</text>
<text x="966.0" y="130.1" font-family="'Liberation Serif', serif" font-size="12.2" fill="#000000" text-anchor="start" >16</text>
<line x1="824.0" y1="161.3" x2="838.4" y2="161.3" stroke="#000000" stroke-width="1.5" />
<line x1="953.4" y1="161.3" x2="968.0" y2="161.3" stroke="#000000" stroke-width="1.5" />
<text x="848.5" y="165.6" font-family="'Liberation Serif', serif" font-size="12.2" fill="#000000" text-anchor="start" >C1-</text>
<text x="944.0" y="165.6" font-family="'Liberation Serif', serif" font-size="12.2" fill="#000000" text-anchor="end" >GND</text>
<text x="828.5" y="158.9" font-family="'Liberation Serif', serif" font-size="12.2" fill="#000000" text-anchor="end" >3</text>
<text x="966.0" y="158.9" font-family="'Liberation Serif', serif" font-size="12.2" fill="#000000" text-anchor="start" >15</text>
<line x1="824.0" y1="190.1" x2="838.4" y2="190.1" stroke="#000000" stroke-width="1.5" />
<line x1="953.4" y1="190.1" x2="968.0" y2="190.1" stroke="#000000" stroke-width="1.5" />
<text x="848.5" y="194.4" font-family="'Liberation Serif', serif" font-size="12.2" fill="#000000" text-anchor="start" >C2+</text>
<text x="944.0" y="194.4" font-family="'Liberation Serif', serif" font-size="12.2" fill="#000000" text-anchor="end" >V+</text>
<text x="828.5" y="187.7" font-family="'Liberation Serif', serif" font-size="12.2" fill="#000000" text-anchor="end" >4</text>
<text x="966.0" y="187.7" font-family="'Liberation Serif', serif" font-size="12.2" fill="#000000" text-anchor="start" >2</text>
<line x1="824.0" y1="218.9" x2="838.4" y2="218.9" stroke="#000000" stroke-width="1.5" />
<line x1="953.4" y1="218.9" x2="968.0" y2="218.9" stroke="#000000" stroke-width="1.5" />
<text x="848.5" y="223.2" font-family="'Liberation Serif', serif" font-size="12.2" fill="#000000" text-anchor="start" >C2-</text>
<text x="944.0" y="223.2" font-family="'Liberation Serif', serif" font-size="12.2" fill="#000000" text-anchor="end" >V-</text>
<text x="828.5" y="216.5" font-family="'Liberation Serif', serif" font-size="12.2" fill="#000000" text-anchor="end" >5</text>
<text x="966.0" y="216.5" font-family="'Liberation Serif', serif" font-size="12.2" fill="#000000" text-anchor="start" >6</text>
<line x1="824.0" y1="247.7" x2="838.4" y2="247.7" stroke="#000000" stroke-width="1.5" />
<line x1="953.4" y1="247.7" x2="968.0" y2="247.7" stroke="#000000" stroke-width="1.5" />
<text x="848.5" y="252.0" font-family="'Liberation Serif', serif" font-size="12.2" fill="#000000" text-anchor="start" >T1IN</text>
<text x="944.0" y="252.0" font-family="'Liberation Serif', serif" font-size="12.2" fill="#000000" text-anchor="end" >T1OUT</text>
<text x="828.5" y="245.3" font-family="'Liberation Serif', serif" font-size="12.2" fill="#000000" text-anchor="end" >11</text>
<text x="966.0" y="245.3" font-family="'Liberation Serif', serif" font-size="12.2" fill="#000000" text-anchor="start" >14</text>
<line x1="824.0" y1="276.5" x2="838.4" y2="276.5" stroke="#000000" stroke-width="1.5" />
<line x1="953.4" y1="276.5" x2="968.0" y2="276.5" stroke="#000000" stroke-width="1.5" />
<text x="848.5" y="280.8" font-family="'Liberation Serif', serif" font-size="12.2" fill="#000000" text-anchor="start" >T2IN</text>
<text x="944.0" y="280.8" font-family="'Liberation Serif', serif" font-size="12.2" fill="#000000" text-anchor="end" >T2OUT</text>
<text x="828.5" y="274.1" font-family="'Liberation Serif', serif" font-size="12.2" fill="#000000" text-anchor="end" >10</text>
<text x="966.0" y="274.1" font-family="'Liberation Serif', serif" font-size="12.2" fill="#000000" text-anchor="start" >7</text>
<line x1="824.0" y1="305.3" x2="838.4" y2="305.3" stroke="#000000" stroke-width="1.5" />
<line x1="953.4" y1="305.3" x2="968.0" y2="305.3" stroke="#000000" stroke-width="1.5" />
<text x="848.5" y="309.6" font-family="'Liberation Serif', serif" font-size="12.2" fill="#000000" text-anchor="start" >R1OUT</text>
<text x="944.0" y="309.6" font-family="'Liberation Serif', serif" font-size="12.2" fill="#000000" text-anchor="end" >R1IN</text>
<text x="828.5" y="302.9" font-family="'Liberation Serif', serif" font-size="12.2" fill="#000000" text-anchor="end" >12</text>
<text x="966.0" y="302.9" font-family="'Liberation Serif', serif" font-size="12.2" fill="#000000" text-anchor="start" >13</text>
<line x1="824.0" y1="334.1" x2="838.4" y2="334.1" stroke="#000000" stroke-width="1.5" />
<line x1="953.4" y1="334.1" x2="968.0" y2="334.1" stroke="#000000" stroke-width="1.5" />
<text x="848.5" y="338.4" font-family="'Liberation Serif', serif" font-size="12.2" fill="#000000" text-anchor="start" >R2OUT</text>
<text x="944.0" y="338.4" font-family="'Liberation Serif', serif" font-size="12.2" fill="#000000" text-anchor="end" >R2IN</text>
<text x="828.5" y="331.7" font-family="'Liberation Serif', serif" font-size="12.2" fill="#000000" text-anchor="end" >9</text>
<text x="966.0" y="331.7" font-family="'Liberation Serif', serif" font-size="12.2" fill="#000000" text-anchor="start" >8</text>
<line x1="719.3" y1="132.5" x2="824.0" y2="132.5" stroke="#000080" stroke-width="1.5" />
<line x1="665.4" y1="132.5" x2="711.8" y2="132.5" stroke="#000080" stroke-width="1.5" />
<line x1="665.4" y1="132.5" x2="665.4" y2="161.3" stroke="#000080" stroke-width="1.5" />
<line x1="665.4" y1="161.3" x2="824.0" y2="161.3" stroke="#000080" stroke-width="1.5" />
<line x1="711.8" y1="119.0" x2="711.8" y2="146.0" stroke="#0000FF" stroke-width="1.7" />
<line x1="719.3" y1="119.0" x2="719.3" y2="146.0" stroke="#0000FF" stroke-width="1.7" />
<text x="680.0" y="127.3" font-family="'Liberation Sans', sans-serif" font-size="8.6" fill="#000080" text-anchor="start" >C15</text>
<text x="724.2" y="127.3" font-family="'Liberation Sans', sans-serif" font-size="8.6" fill="#000080" text-anchor="start" >100nF</text>
<text x="723.8" y="141.0" font-family="'Liberation Sans', sans-serif" font-size="8.6" fill="#000080" text-anchor="start" >25V</text>
<text x="781.0" y="130.9" font-family="'Liberation Sans', sans-serif" font-size="6" fill="#800000" text-anchor="start" >RC1+</text>
<text x="781.0" y="159.7" font-family="'Liberation Sans', sans-serif" font-size="6" fill="#800000" text-anchor="start" >RC1-</text>
<line x1="719.3" y1="190.1" x2="824.0" y2="190.1" stroke="#000080" stroke-width="1.5" />
<line x1="665.4" y1="190.1" x2="711.8" y2="190.1" stroke="#000080" stroke-width="1.5" />
<line x1="665.4" y1="190.1" x2="665.4" y2="218.9" stroke="#000080" stroke-width="1.5" />
<line x1="665.4" y1="218.9" x2="824.0" y2="218.9" stroke="#000080" stroke-width="1.5" />
<line x1="711.8" y1="176.9" x2="711.8" y2="203.9" stroke="#0000FF" stroke-width="1.7" />
<line x1="719.3" y1="176.9" x2="719.3" y2="203.9" stroke="#0000FF" stroke-width="1.7" />
<text x="680.0" y="185.2" font-family="'Liberation Sans', sans-serif" font-size="8.6" fill="#000080" text-anchor="start" >C17</text>
<text x="724.2" y="185.2" font-family="'Liberation Sans', sans-serif" font-size="8.6" fill="#000080" text-anchor="start" >100nF</text>
<text x="723.8" y="198.9" font-family="'Liberation Sans', sans-serif" font-size="8.6" fill="#000080" text-anchor="start" >25V</text>
<text x="781.0" y="188.5" font-family="'Liberation Sans', sans-serif" font-size="6" fill="#800000" text-anchor="start" >RC2+</text>
<text x="781.0" y="217.3" font-family="'Liberation Sans', sans-serif" font-size="6" fill="#800000" text-anchor="start" >RC2-</text>
<line x1="968.0" y1="132.5" x2="997.0" y2="132.5" stroke="#000080" stroke-width="1.5" />
<line x1="997.0" y1="132.5" x2="997.0" y2="104.0" stroke="#000080" stroke-width="1.5" />
<line x1="997.0" y1="104.0" x2="1112.0" y2="104.0" stroke="#000080" stroke-width="1.5" />
<line x1="968.0" y1="161.3" x2="1112.0" y2="161.3" stroke="#000080" stroke-width="1.5" />
<line x1="968.0" y1="190.1" x2="1028.8" y2="190.1" stroke="#000080" stroke-width="1.5" />
<line x1="1035.7" y1="190.1" x2="1112.0" y2="190.1" stroke="#000080" stroke-width="1.5" />
<line x1="1028.8" y1="177.3" x2="1028.8" y2="203.3" stroke="#0000FF" stroke-width="1.7" />
<line x1="1035.7" y1="177.3" x2="1035.7" y2="203.3" stroke="#0000FF" stroke-width="1.7" />
<text x="1041.2" y="184.3" font-family="'Liberation Sans', sans-serif" font-size="8.6" fill="#000080" text-anchor="start" >100nF</text>
<text x="1083.5" y="184.3" font-family="'Liberation Sans', sans-serif" font-size="8.6" fill="#000080" text-anchor="start" >C18</text>
<text x="1040.5" y="199.3" font-family="'Liberation Sans', sans-serif" font-size="8.6" fill="#000080" text-anchor="start" >25V</text>
<text x="982.7" y="188.6" font-family="'Liberation Sans', sans-serif" font-size="6" fill="#800000" text-anchor="start" >RV+</text>
<line x1="968.0" y1="218.9" x2="1028.8" y2="218.9" stroke="#000080" stroke-width="1.5" />
<line x1="1035.7" y1="218.9" x2="1112.0" y2="218.9" stroke="#000080" stroke-width="1.5" />
<line x1="1028.8" y1="206.0" x2="1028.8" y2="232.0" stroke="#0000FF" stroke-width="1.7" />
<line x1="1035.7" y1="206.0" x2="1035.7" y2="232.0" stroke="#0000FF" stroke-width="1.7" />
<text x="1041.2" y="213.0" font-family="'Liberation Sans', sans-serif" font-size="8.6" fill="#000080" text-anchor="start" >100nF</text>
<text x="1083.5" y="213.0" font-family="'Liberation Sans', sans-serif" font-size="8.6" fill="#000080" text-anchor="start" >C19</text>
<text x="1040.5" y="228.0" font-family="'Liberation Sans', sans-serif" font-size="8.6" fill="#000080" text-anchor="start" >25V</text>
<text x="982.7" y="217.4" font-family="'Liberation Sans', sans-serif" font-size="6" fill="#800000" text-anchor="start" >RV-</text>
<text x="1101.6" y="58.6" font-family="'Liberation Serif', serif" font-size="12.2" fill="#800000" text-anchor="start" >+5V</text>
<line x1="1104.3" y1="60.5" x2="1119.7" y2="60.5" stroke="#800000" stroke-width="1.35" />
<line x1="1112.0" y1="60.5" x2="1112.0" y2="70.0" stroke="#800000" stroke-width="1.5" />
<line x1="1112.0" y1="70.0" x2="1112.0" y2="137.4" stroke="#000080" stroke-width="1.5" />
<line x1="1112.0" y1="144.1" x2="1112.0" y2="235.0" stroke="#000080" stroke-width="1.5" />
<line x1="1099.0" y1="137.4" x2="1125.5" y2="137.4" stroke="#0000FF" stroke-width="1.7" />
<line x1="1099.0" y1="144.1" x2="1125.5" y2="144.1" stroke="#0000FF" stroke-width="1.7" />
<text x="1126.7" y="127.4" font-family="'Liberation Sans', sans-serif" font-size="8.6" fill="#000080" text-anchor="start" >C16</text>
<text x="1126.7" y="141.7" font-family="'Liberation Sans', sans-serif" font-size="8.6" fill="#000080" text-anchor="start" >100nF</text>
<text x="1126.7" y="155.8" font-family="'Liberation Sans', sans-serif" font-size="8.6" fill="#000080" text-anchor="start" >25V</text>
<circle cx="1112.0" cy="104.0" r="3.1" fill="#000080"/>
<circle cx="1112.0" cy="161.3" r="3.1" fill="#000080"/>
<circle cx="1112.0" cy="190.1" r="3.1" fill="#000080"/>
<circle cx="1112.0" cy="218.9" r="3.1" fill="#000080"/>
<line x1="1112.0" y1="235.0" x2="1112.0" y2="247.7" stroke="#800000" stroke-width="1.5" />
<line x1="1097.0" y1="247.7" x2="1127.0" y2="247.7" stroke="#800000" stroke-width="1.35" />
<line x1="1101.0" y1="252.2" x2="1123.0" y2="252.2" stroke="#800000" stroke-width="1.35" />
<line x1="1105.0" y1="256.7" x2="1119.0" y2="256.7" stroke="#800000" stroke-width="1.35" />
<line x1="1109.5" y1="260.7" x2="1114.5" y2="260.7" stroke="#800000" stroke-width="1.35" />
<polyline points="685.1,268.9 692.9,276.5 685.1,284.1" stroke="#D81E26" stroke-width="1.35" fill="none" stroke-linejoin="miter"/>
<polyline points="677.5,268.9 685.3,276.5 677.5,284.1" stroke="#D81E26" stroke-width="1.35" fill="none" stroke-linejoin="miter"/>
<text x="673.7" y="280.8" font-family="'Liberation Serif', serif" font-size="12.4" fill="#D81E26" text-anchor="end" >EST580_TX</text>
<line x1="692.9" y1="276.5" x2="709.0" y2="276.5" stroke="#000000" stroke-width="1.5" />
<polyline points="709.0,276.5 713.2,281.1 721.6,271.9 730.0,281.1 738.4,271.9 746.8,281.1 751.0,276.5" stroke="#0000FF" stroke-width="1.5" fill="none" stroke-linejoin="miter"/>
<line x1="751.0" y1="276.5" x2="768.0" y2="276.5" stroke="#000000" stroke-width="1.5" />
<line x1="768.0" y1="276.5" x2="824.0" y2="276.5" stroke="#000080" stroke-width="1.5" />
<text x="752.2" y="256.3" font-family="'Liberation Sans', sans-serif" font-size="8.6" fill="#000080" text-anchor="start" >R25</text>
<text x="752.2" y="270.2" font-family="'Liberation Sans', sans-serif" font-size="8.6" fill="#000080" text-anchor="start" >33R</text>
<text x="795.0" y="275.0" font-family="'Liberation Sans', sans-serif" font-size="6" fill="#800000" text-anchor="start" >RT2IN</text>
<polyline points="685.1,326.5 692.9,334.1 685.1,341.7" stroke="#D81E26" stroke-width="1.35" fill="none" stroke-linejoin="miter"/>
<polyline points="677.5,326.5 685.3,334.1 677.5,341.7" stroke="#D81E26" stroke-width="1.35" fill="none" stroke-linejoin="miter"/>
<text x="673.7" y="338.4" font-family="'Liberation Serif', serif" font-size="12.4" fill="#D81E26" text-anchor="end" >EST580_RX</text>
<line x1="692.9" y1="334.1" x2="709.0" y2="334.1" stroke="#000000" stroke-width="1.5" />
<polyline points="709.0,334.1 713.2,338.7 721.6,329.5 730.0,338.7 738.4,329.5 746.8,338.7 751.0,334.1" stroke="#0000FF" stroke-width="1.5" fill="none" stroke-linejoin="miter"/>
<line x1="751.0" y1="334.1" x2="768.0" y2="334.1" stroke="#000000" stroke-width="1.5" />
<line x1="768.0" y1="334.1" x2="824.0" y2="334.1" stroke="#000080" stroke-width="1.5" />
<text x="752.2" y="313.9" font-family="'Liberation Sans', sans-serif" font-size="8.6" fill="#000080" text-anchor="start" >R26</text>
<text x="752.2" y="327.8" font-family="'Liberation Sans', sans-serif" font-size="8.6" fill="#000080" text-anchor="start" >33R</text>
<text x="795.0" y="332.6" font-family="'Liberation Sans', sans-serif" font-size="6" fill="#800000" text-anchor="start" >RR2OUT</text>
<line x1="968.0" y1="276.5" x2="1010.0" y2="276.5" stroke="#000080" stroke-width="1.5" />
<line x1="1010.0" y1="276.5" x2="1026.0" y2="276.5" stroke="#000000" stroke-width="1.5" />
<polyline points="1026.0,276.5 1030.2,281.1 1038.6,271.9 1047.0,281.1 1055.4,271.9 1063.8,281.1 1068.0,276.5" stroke="#0000FF" stroke-width="1.5" fill="none" stroke-linejoin="miter"/>
<line x1="1068.0" y1="276.5" x2="1085.0" y2="276.5" stroke="#000000" stroke-width="1.5" />
<line x1="1085.0" y1="276.5" x2="1113.0" y2="276.5" stroke="#000080" stroke-width="1.5" />
<polyline points="1120.8,268.9 1113.0,276.5 1120.8,284.1" stroke="#D81E26" stroke-width="1.35" fill="none" stroke-linejoin="miter"/>
<polyline points="1128.4,268.9 1120.6,276.5 1128.4,284.1" stroke="#D81E26" stroke-width="1.35" fill="none" stroke-linejoin="miter"/>
<text x="1132.3" y="280.8" font-family="'Liberation Serif', serif" font-size="12.4" fill="#D81E26" text-anchor="start" >RS232_TXD</text>
<text x="1069.0" y="256.3" font-family="'Liberation Sans', sans-serif" font-size="8.6" fill="#000080" text-anchor="start" >R11</text>
<text x="1069.0" y="270.2" font-family="'Liberation Sans', sans-serif" font-size="8.6" fill="#000080" text-anchor="start" >120R</text>
<text x="983.0" y="275.0" font-family="'Liberation Sans', sans-serif" font-size="6" fill="#800000" text-anchor="start" >RT2OUT</text>
<line x1="968.0" y1="334.1" x2="1010.0" y2="334.1" stroke="#000080" stroke-width="1.5" />
<line x1="1010.0" y1="334.1" x2="1026.0" y2="334.1" stroke="#000000" stroke-width="1.5" />
<polyline points="1026.0,334.1 1030.2,338.7 1038.6,329.5 1047.0,338.7 1055.4,329.5 1063.8,338.7 1068.0,334.1" stroke="#0000FF" stroke-width="1.5" fill="none" stroke-linejoin="miter"/>
<line x1="1068.0" y1="334.1" x2="1085.0" y2="334.1" stroke="#000000" stroke-width="1.5" />
<line x1="1085.0" y1="334.1" x2="1113.0" y2="334.1" stroke="#000080" stroke-width="1.5" />
<polyline points="1120.8,326.5 1113.0,334.1 1120.8,341.7" stroke="#D81E26" stroke-width="1.35" fill="none" stroke-linejoin="miter"/>
<polyline points="1128.4,326.5 1120.6,334.1 1128.4,341.7" stroke="#D81E26" stroke-width="1.35" fill="none" stroke-linejoin="miter"/>
<text x="1132.3" y="338.4" font-family="'Liberation Serif', serif" font-size="12.4" fill="#D81E26" text-anchor="start" >RS232_RXD</text>
<text x="1069.0" y="313.9" font-family="'Liberation Sans', sans-serif" font-size="8.6" fill="#000080" text-anchor="start" >R16</text>
<text x="1069.0" y="327.8" font-family="'Liberation Sans', sans-serif" font-size="8.6" fill="#000080" text-anchor="start" >120R</text>
<text x="983.0" y="332.6" font-family="'Liberation Sans', sans-serif" font-size="6" fill="#800000" text-anchor="start" >RR2IN</text>
<text x="1453.6" y="135.1" font-family="'Liberation Sans', sans-serif" font-size="8.6" fill="#000080" text-anchor="start" >CON1</text>
<rect x="1443.0" y="147.0" width="100.8" height="57.3" stroke="#800000" stroke-width="1.0" fill="#FFFAAA"/>
<text x="1455.0" y="219.5" font-family="'Liberation Sans', sans-serif" font-size="8.6" fill="#000080" text-anchor="start" >3MM_2X2P</text>
<line x1="1413.8" y1="161.2" x2="1428.0" y2="161.2" stroke="#000080" stroke-width="1.5" />
<line x1="1428.0" y1="161.2" x2="1443.0" y2="161.2" stroke="#000000" stroke-width="1.5" />
<line x1="1543.8" y1="161.2" x2="1558.0" y2="161.2" stroke="#000000" stroke-width="1.5" />
<text x="1427.8" y="159.0" font-family="'Liberation Serif', serif" font-size="12.2" fill="#000000" text-anchor="start" >1</text>
<text x="1454.4" y="166.0" font-family="'Liberation Serif', serif" font-size="12.2" fill="#000000" text-anchor="start" >1</text>
<text x="1529.0" y="166.0" font-family="'Liberation Serif', serif" font-size="12.2" fill="#000000" text-anchor="start" >2</text>
<text x="1555.8" y="159.0" font-family="'Liberation Serif', serif" font-size="12.2" fill="#000000" text-anchor="start" >2</text>
<polyline points="1406.0,153.6 1413.8,161.2 1406.0,168.8" stroke="#D81E26" stroke-width="1.35" fill="none" stroke-linejoin="miter"/>
<polyline points="1398.4,153.6 1406.2,161.2 1398.4,168.8" stroke="#D81E26" stroke-width="1.35" fill="none" stroke-linejoin="miter"/>
<text x="1394.3" y="165.5" font-family="'Liberation Serif', serif" font-size="12.4" fill="#D81E26" text-anchor="end" >RS232_RXD</text>
<line x1="1413.8" y1="190.1" x2="1428.0" y2="190.1" stroke="#000080" stroke-width="1.5" />
<line x1="1428.0" y1="190.1" x2="1443.0" y2="190.1" stroke="#000000" stroke-width="1.5" />
<line x1="1543.8" y1="190.1" x2="1558.0" y2="190.1" stroke="#000000" stroke-width="1.5" />
<text x="1427.8" y="187.9" font-family="'Liberation Serif', serif" font-size="12.2" fill="#000000" text-anchor="start" >3</text>
<text x="1454.4" y="194.9" font-family="'Liberation Serif', serif" font-size="12.2" fill="#000000" text-anchor="start" >3</text>
<text x="1529.0" y="194.9" font-family="'Liberation Serif', serif" font-size="12.2" fill="#000000" text-anchor="start" >4</text>
<text x="1555.8" y="187.9" font-family="'Liberation Serif', serif" font-size="12.2" fill="#000000" text-anchor="start" >4</text>
<polyline points="1406.0,182.5 1413.8,190.1 1406.0,197.7" stroke="#D81E26" stroke-width="1.35" fill="none" stroke-linejoin="miter"/>
<polyline points="1398.4,182.5 1406.2,190.1 1398.4,197.7" stroke="#D81E26" stroke-width="1.35" fill="none" stroke-linejoin="miter"/>
<text x="1394.3" y="194.4" font-family="'Liberation Serif', serif" font-size="12.4" fill="#D81E26" text-anchor="end" >RS232_TXD</text>
<line x1="1558.0" y1="161.2" x2="1573.0" y2="161.2" stroke="#000080" stroke-width="1.5" />
<line x1="1573.0" y1="161.2" x2="1573.0" y2="132.0" stroke="#000080" stroke-width="1.5" />
<line x1="1573.0" y1="132.0" x2="1573.0" y2="118.2" stroke="#800000" stroke-width="1.4" />
<line x1="1558.0" y1="118.2" x2="1588.0" y2="118.2" stroke="#800000" stroke-width="1.35" />
<line x1="1562.0" y1="113.7" x2="1584.0" y2="113.7" stroke="#800000" stroke-width="1.35" />
<line x1="1566.0" y1="109.2" x2="1580.0" y2="109.2" stroke="#800000" stroke-width="1.35" />
<line x1="1570.5" y1="105.2" x2="1575.5" y2="105.2" stroke="#800000" stroke-width="1.35" />
<line x1="1558.0" y1="190.1" x2="1601.8" y2="190.1" stroke="#000080" stroke-width="1.5" />
<line x1="1601.8" y1="190.1" x2="1601.8" y2="160.0" stroke="#000080" stroke-width="1.5" />
<line x1="1601.8" y1="160.0" x2="1601.8" y2="147.0" stroke="#800000" stroke-width="1.4" />
<line x1="1594.1" y1="147.0" x2="1609.5" y2="147.0" stroke="#800000" stroke-width="1.35" />
<text x="1582.3" y="144.0" font-family="'Liberation Serif', serif" font-size="12.2" fill="#800000" text-anchor="start" >+VBAT</text>
<text x="1573.0" y="374.9" font-family="'Liberation Serif', serif" font-size="12.2" fill="#000080" text-anchor="start" >CON2</text>
<rect x="1573.1" y="377.4" width="42.4" height="70.6" stroke="#800000" stroke-width="1.0" fill="#FFFAAA"/>
<text x="1583.4" y="395.8" font-family="'Liberation Serif', serif" font-size="12.2" fill="#000000" text-anchor="start" >1</text>
<text x="1583.4" y="410.1" font-family="'Liberation Serif', serif" font-size="12.2" fill="#000000" text-anchor="start" >2</text>
<text x="1583.4" y="424.5" font-family="'Liberation Serif', serif" font-size="12.2" fill="#000000" text-anchor="start" >3</text>
<text x="1583.4" y="438.9" font-family="'Liberation Serif', serif" font-size="12.2" fill="#000000" text-anchor="start" >4</text>
<line x1="1529.0" y1="362.6" x2="1559.0" y2="362.6" stroke="#800000" stroke-width="1.35" />
<line x1="1533.0" y1="358.1" x2="1555.0" y2="358.1" stroke="#800000" stroke-width="1.35" />
<line x1="1537.0" y1="353.6" x2="1551.0" y2="353.6" stroke="#800000" stroke-width="1.35" />
<line x1="1541.5" y1="349.6" x2="1546.5" y2="349.6" stroke="#800000" stroke-width="1.35" />
<line x1="1544.0" y1="362.6" x2="1544.0" y2="391.6" stroke="#000080" stroke-width="1.5" />
<line x1="1544.0" y1="391.6" x2="1558.0" y2="391.6" stroke="#000080" stroke-width="1.5" />
<line x1="1558.0" y1="391.6" x2="1573.0" y2="391.6" stroke="#000000" stroke-width="1.5" />
<polyline points="1331.6,398.3 1339.4,405.9 1331.6,413.5" stroke="#D81E26" stroke-width="1.35" fill="none" stroke-linejoin="miter"/>
<polyline points="1324.0,398.3 1331.8,405.9 1324.0,413.5" stroke="#D81E26" stroke-width="1.35" fill="none" stroke-linejoin="miter"/>
<text x="1321.4" y="410.7" font-family="'Liberation Serif', serif" font-size="12.4" fill="#D81E26" text-anchor="end" >EST580_RX</text>
<line x1="1339.4" y1="405.9" x2="1371.4" y2="405.9" stroke="#000000" stroke-width="1.5" />
<polyline points="1371.4,405.9 1375.7,401.3 1384.2,410.5 1392.8,401.3 1401.4,410.5 1409.9,401.3 1414.2,405.9" stroke="#0000FF" stroke-width="1.5" fill="none" stroke-linejoin="miter"/>
<line x1="1414.2" y1="405.9" x2="1430.0" y2="405.9" stroke="#000000" stroke-width="1.5" />
<line x1="1430.0" y1="405.9" x2="1543.6" y2="405.9" stroke="#000080" stroke-width="1.5" />
<line x1="1543.6" y1="405.9" x2="1573.0" y2="405.9" stroke="#000000" stroke-width="1.5" />
<text x="1342.8" y="400.2" font-family="'Liberation Sans', sans-serif" font-size="8.6" fill="#000080" text-anchor="start" >R14</text>
<text x="1414.7" y="400.2" font-family="'Liberation Sans', sans-serif" font-size="8.6" fill="#000080" text-anchor="start" >NC</text>
<polyline points="1331.6,412.7 1339.4,420.3 1331.6,427.9" stroke="#D81E26" stroke-width="1.35" fill="none" stroke-linejoin="miter"/>
<polyline points="1324.0,412.7 1331.8,420.3 1324.0,427.9" stroke="#D81E26" stroke-width="1.35" fill="none" stroke-linejoin="miter"/>
<text x="1321.4" y="425.1" font-family="'Liberation Serif', serif" font-size="12.4" fill="#D81E26" text-anchor="end" >EST580_TX</text>
<line x1="1339.4" y1="420.3" x2="1371.4" y2="420.3" stroke="#000000" stroke-width="1.5" />
<polyline points="1371.4,420.3 1375.7,415.7 1384.2,424.9 1392.8,415.7 1401.4,424.9 1409.9,415.7 1414.2,420.3" stroke="#0000FF" stroke-width="1.5" fill="none" stroke-linejoin="miter"/>
<line x1="1414.2" y1="420.3" x2="1430.0" y2="420.3" stroke="#000000" stroke-width="1.5" />
<line x1="1430.0" y1="420.3" x2="1543.6" y2="420.3" stroke="#000080" stroke-width="1.5" />
<line x1="1543.6" y1="420.3" x2="1573.0" y2="420.3" stroke="#000000" stroke-width="1.5" />
<text x="1342.8" y="414.6" font-family="'Liberation Sans', sans-serif" font-size="8.6" fill="#000080" text-anchor="start" >R15</text>
<text x="1414.7" y="414.6" font-family="'Liberation Sans', sans-serif" font-size="8.6" fill="#000080" text-anchor="start" >NC</text>
<line x1="1530.2" y1="434.7" x2="1544.0" y2="434.7" stroke="#800000" stroke-width="1.4" />
<line x1="1544.0" y1="434.7" x2="1573.0" y2="434.7" stroke="#000000" stroke-width="1.5" />
<line x1="1530.2" y1="427.3" x2="1530.2" y2="442.3" stroke="#800000" stroke-width="1.35" />
<text x="1505.0" y="439.0" font-family="'Liberation Serif', serif" font-size="12.2" fill="#800000" text-anchor="start" >+5V</text>
<text x="1444.0" y="403.0" font-family="'Liberation Serif', serif" font-size="12.2" fill="#800000" text-anchor="start" >TTL_RX</text>
<text x="1444.0" y="418.5" font-family="'Liberation Serif', serif" font-size="12.2" fill="#800000" text-anchor="start" >TTL_TX</text>
<circle cx="1501.2" cy="405.9" r="3.1" fill="#000080"/>
<circle cx="1428.8" cy="420.3" r="3.1" fill="#000080"/>
<line x1="1428.8" y1="420.3" x2="1428.8" y2="449.4" stroke="#000080" stroke-width="1.5" />
<line x1="1428.8" y1="449.4" x2="1428.8" y2="477.0" stroke="#000000" stroke-width="1.5" />
<polygon points="1413.8,477.0 1443.8,477.0 1428.8,491.7" stroke="#0000FF" stroke-width="0.5" fill="#0000FF" stroke-linejoin="miter"/>
<line x1="1413.8" y1="491.7" x2="1443.8" y2="491.7" stroke="#0000FF" stroke-width="1.6" />
<line x1="1428.8" y1="491.7" x2="1428.8" y2="520.7" stroke="#000000" stroke-width="1.5" />
<line x1="1428.8" y1="520.7" x2="1428.8" y2="534.6" stroke="#800000" stroke-width="1.4" />
<line x1="1421.1" y1="534.6" x2="1436.5" y2="534.6" stroke="#800000" stroke-width="1.35" />
<text x="1445.5" y="488.0" font-family="'Liberation Serif', serif" font-size="12.2" fill="#000080" text-anchor="start" >D2</text>
<text x="1445.5" y="502.8" font-family="'Liberation Serif', serif" font-size="12.2" fill="#000080" text-anchor="start" >B5819W</text>
<text x="1428.8" y="547.0" font-family="'Liberation Serif', serif" font-size="12.2" fill="#800000" text-anchor="middle" >+5V</text>
<line x1="1501.2" y1="405.9" x2="1501.2" y2="449.4" stroke="#000080" stroke-width="1.5" />
<line x1="1501.2" y1="449.4" x2="1501.2" y2="477.0" stroke="#000000" stroke-width="1.5" />
<polygon points="1486.2,477.0 1516.2,477.0 1501.2,491.7" stroke="#0000FF" stroke-width="0.5" fill="#0000FF" stroke-linejoin="miter"/>
<line x1="1486.2" y1="491.7" x2="1516.2" y2="491.7" stroke="#0000FF" stroke-width="1.6" />
<line x1="1501.2" y1="491.7" x2="1501.2" y2="520.7" stroke="#000000" stroke-width="1.5" />
<line x1="1501.2" y1="520.7" x2="1501.2" y2="534.6" stroke="#800000" stroke-width="1.4" />
<line x1="1493.5" y1="534.6" x2="1508.9" y2="534.6" stroke="#800000" stroke-width="1.35" />
<text x="1517.9" y="488.0" font-family="'Liberation Serif', serif" font-size="12.2" fill="#000080" text-anchor="start" >D3</text>
<text x="1517.9" y="502.8" font-family="'Liberation Serif', serif" font-size="12.2" fill="#000080" text-anchor="start" >B5819W</text>
<text x="1501.2" y="547.0" font-family="'Liberation Serif', serif" font-size="12.2" fill="#800000" text-anchor="middle" >+5V</text>
<text x="1270.7" y="662.6" font-family="'Liberation Serif', serif" font-size="12.2" fill="#800000" text-anchor="middle" >+5V</text>
<line x1="1263.0" y1="664.6" x2="1278.4" y2="664.6" stroke="#800000" stroke-width="1.35" />
<line x1="1270.7" y1="664.6" x2="1270.7" y2="669.0" stroke="#800000" stroke-width="1.5" />
<line x1="1270.7" y1="669.0" x2="1270.7" y2="692.0" stroke="#000000" stroke-width="1.5" />
<polyline points="1270.7,692.0 1266.7,696.4 1274.7,705.3 1266.7,714.1 1274.7,722.9 1266.7,731.8 1270.7,736.2" stroke="#0000FF" stroke-width="1.5" fill="none" stroke-linejoin="miter"/>
<line x1="1270.7" y1="736.2" x2="1270.7" y2="765.0" stroke="#000000" stroke-width="1.5" />
<polygon points="1255.7,765.0 1285.7,765.0 1270.7,780.0" stroke="#0000FF" stroke-width="0.5" fill="#0000FF" stroke-linejoin="miter"/>
<line x1="1255.7" y1="780.0" x2="1285.7" y2="780.0" stroke="#0000FF" stroke-width="1.6" />
<line x1="1256.6" y1="771.5" x2="1245.8" y2="782.3" stroke="#0000FF" stroke-width="1.5" />
<polygon points="1245.8,782.3 1247.7,776.4 1251.7,780.4" stroke="#0000FF" stroke-width="0.5" fill="#0000FF" stroke-linejoin="miter"/>
<line x1="1262.5" y1="780.3" x2="1253.6" y2="791.0" stroke="#0000FF" stroke-width="1.5" />
<polygon points="1253.6,791.0 1255.0,785.0 1259.3,788.6" stroke="#0000FF" stroke-width="0.5" fill="#0000FF" stroke-linejoin="miter"/>
<text x="1277.0" y="703.8" font-family="'Liberation Serif', serif" font-size="12.2" fill="#000080" text-anchor="start" >R6</text>
<text x="1285.6" y="719.5" font-family="'Liberation Serif', serif" font-size="12.2" fill="#000080" text-anchor="start" >510R</text>
<text x="1287.0" y="775.4" font-family="'Liberation Serif', serif" font-size="12.2" fill="#000080" text-anchor="start" >LED_POWER</text>
<line x1="1270.7" y1="780.0" x2="1270.7" y2="828.0" stroke="#000080" stroke-width="1.5" />
<line x1="1270.7" y1="828.0" x2="1270.7" y2="837.2" stroke="#800000" stroke-width="1.5" />
<line x1="1255.7" y1="837.2" x2="1285.7" y2="837.2" stroke="#800000" stroke-width="1.35" />
<line x1="1259.7" y1="841.7" x2="1281.7" y2="841.7" stroke="#800000" stroke-width="1.35" />
<line x1="1263.7" y1="846.2" x2="1277.7" y2="846.2" stroke="#800000" stroke-width="1.35" />
<line x1="1268.2" y1="850.2" x2="1273.2" y2="850.2" stroke="#800000" stroke-width="1.35" />
<text x="1385.6" y="662.6" font-family="'Liberation Serif', serif" font-size="12.2" fill="#800000" text-anchor="middle" >+5V</text>
<line x1="1377.9" y1="664.6" x2="1393.3" y2="664.6" stroke="#800000" stroke-width="1.35" />
<line x1="1385.6" y1="664.6" x2="1385.6" y2="669.0" stroke="#800000" stroke-width="1.5" />
<line x1="1385.6" y1="669.0" x2="1385.6" y2="692.0" stroke="#000000" stroke-width="1.5" />
<polyline points="1385.6,692.0 1381.6,696.4 1389.6,705.3 1381.6,714.1 1389.6,722.9 1381.6,731.8 1385.6,736.2" stroke="#0000FF" stroke-width="1.5" fill="none" stroke-linejoin="miter"/>
<line x1="1385.6" y1="736.2" x2="1385.6" y2="765.0" stroke="#000000" stroke-width="1.5" />
<polygon points="1370.6,765.0 1400.6,765.0 1385.6,780.0" stroke="#0000FF" stroke-width="0.5" fill="#0000FF" stroke-linejoin="miter"/>
<line x1="1370.6" y1="780.0" x2="1400.6" y2="780.0" stroke="#0000FF" stroke-width="1.6" />
<line x1="1371.5" y1="771.5" x2="1360.7" y2="782.3" stroke="#0000FF" stroke-width="1.5" />
<polygon points="1360.7,782.3 1362.6,776.4 1366.6,780.4" stroke="#0000FF" stroke-width="0.5" fill="#0000FF" stroke-linejoin="miter"/>
<line x1="1377.4" y1="780.3" x2="1368.5" y2="791.0" stroke="#0000FF" stroke-width="1.5" />
<polygon points="1368.5,791.0 1369.9,785.0 1374.2,788.6" stroke="#0000FF" stroke-width="0.5" fill="#0000FF" stroke-linejoin="miter"/>
<text x="1391.9" y="703.8" font-family="'Liberation Serif', serif" font-size="12.2" fill="#000080" text-anchor="start" >R7</text>
<text x="1400.5" y="719.5" font-family="'Liberation Serif', serif" font-size="12.2" fill="#000080" text-anchor="start" >510R</text>
<text x="1401.9" y="775.4" font-family="'Liberation Serif', serif" font-size="12.2" fill="#000080" text-anchor="start" >LED_STATUS</text>
<line x1="1385.6" y1="780.0" x2="1385.6" y2="851.8" stroke="#000080" stroke-width="1.5" />
<text x="1514.9" y="662.6" font-family="'Liberation Serif', serif" font-size="12.2" fill="#800000" text-anchor="middle" >+5V</text>
<line x1="1507.2" y1="664.6" x2="1522.6" y2="664.6" stroke="#800000" stroke-width="1.35" />
<line x1="1514.9" y1="664.6" x2="1514.9" y2="669.0" stroke="#800000" stroke-width="1.5" />
<line x1="1514.9" y1="669.0" x2="1514.9" y2="692.0" stroke="#000000" stroke-width="1.5" />
<polyline points="1514.9,692.0 1510.9,696.4 1518.9,705.3 1510.9,714.1 1518.9,722.9 1510.9,731.8 1514.9,736.2" stroke="#0000FF" stroke-width="1.5" fill="none" stroke-linejoin="miter"/>
<line x1="1514.9" y1="736.2" x2="1514.9" y2="765.0" stroke="#000000" stroke-width="1.5" />
<polygon points="1499.9,765.0 1529.9,765.0 1514.9,780.0" stroke="#0000FF" stroke-width="0.5" fill="#0000FF" stroke-linejoin="miter"/>
<line x1="1499.9" y1="780.0" x2="1529.9" y2="780.0" stroke="#0000FF" stroke-width="1.6" />
<line x1="1500.8" y1="771.5" x2="1490.0" y2="782.3" stroke="#0000FF" stroke-width="1.5" />
<polygon points="1490.0,782.3 1491.9,776.4 1495.9,780.4" stroke="#0000FF" stroke-width="0.5" fill="#0000FF" stroke-linejoin="miter"/>
<line x1="1506.7" y1="780.3" x2="1497.8" y2="791.0" stroke="#0000FF" stroke-width="1.5" />
<polygon points="1497.8,791.0 1499.2,785.0 1503.5,788.6" stroke="#0000FF" stroke-width="0.5" fill="#0000FF" stroke-linejoin="miter"/>
<text x="1521.2" y="703.8" font-family="'Liberation Serif', serif" font-size="12.2" fill="#000080" text-anchor="start" >R8</text>
<text x="1529.8" y="719.5" font-family="'Liberation Serif', serif" font-size="12.2" fill="#000080" text-anchor="start" >510R</text>
<text x="1531.2" y="775.4" font-family="'Liberation Serif', serif" font-size="12.2" fill="#000080" text-anchor="start" >LED_RUN_INT</text>
<line x1="1514.9" y1="780.0" x2="1514.9" y2="851.8" stroke="#000080" stroke-width="1.5" />
<text x="1382.4" y="851.8" font-family="'Liberation Serif', serif" font-size="13" fill="#800000" text-anchor="start" transform="rotate(-90 1382.4 851.8)" textLength="49.5" lengthAdjust="spacing" >STATUS</text>
<text x="1512.6" y="851.8" font-family="'Liberation Serif', serif" font-size="13" fill="#800000" text-anchor="start" transform="rotate(-90 1512.6 851.8)" textLength="55.5" lengthAdjust="spacing" >RUN_INT</text>
<text x="796.0" y="490.4" font-family="'Liberation Serif', serif" font-size="12.2" fill="#000080" text-anchor="start" >U1</text>
<text x="796.0" y="735.4" font-family="'Liberation Serif', serif" font-size="12.2" fill="#000080" text-anchor="start" >EST580</text>
<rect x="796.0" y="493.0" width="157.4" height="228.2" stroke="#800000" stroke-width="1.0" fill="#FFFAAA"/>
<line x1="752.0" y1="506.8" x2="796.0" y2="506.8" stroke="#000000" stroke-width="1.5" />
<line x1="953.4" y1="506.8" x2="997.0" y2="506.8" stroke="#000000" stroke-width="1.5" />
<text x="805.5" y="511.1" font-family="'Liberation Serif', serif" font-size="12.2" fill="#000000" text-anchor="start" >VBAT</text>
<text x="943.8" y="511.1" font-family="'Liberation Serif', serif" font-size="12.2" fill="#000000" text-anchor="end" >VDD</text>
<text x="784.4" y="504.2" font-family="'Liberation Serif', serif" font-size="12.2" fill="#000000" text-anchor="end" >1</text>
<text x="966.4" y="504.2" font-family="'Liberation Serif', serif" font-size="12.2" fill="#000000" text-anchor="start" >16</text>
<line x1="752.0" y1="535.6" x2="796.0" y2="535.6" stroke="#000000" stroke-width="1.5" />
<line x1="953.4" y1="535.6" x2="997.0" y2="535.6" stroke="#000000" stroke-width="1.5" />
<text x="805.5" y="539.9" font-family="'Liberation Serif', serif" font-size="12.2" fill="#000000" text-anchor="start" >NC</text>
<text x="943.8" y="539.9" font-family="'Liberation Serif', serif" font-size="12.2" fill="#000000" text-anchor="end" >STATUS</text>
<text x="784.4" y="533.0" font-family="'Liberation Serif', serif" font-size="12.2" fill="#000000" text-anchor="end" >2</text>
<text x="966.4" y="533.0" font-family="'Liberation Serif', serif" font-size="12.2" fill="#000000" text-anchor="start" >15</text>
<line x1="752.0" y1="564.3" x2="796.0" y2="564.3" stroke="#000000" stroke-width="1.5" />
<line x1="953.4" y1="564.3" x2="997.0" y2="564.3" stroke="#000000" stroke-width="1.5" />
<text x="805.5" y="568.6" font-family="'Liberation Serif', serif" font-size="12.2" fill="#000000" text-anchor="start" >KLINE</text>
<text x="943.8" y="568.6" font-family="'Liberation Serif', serif" font-size="12.2" fill="#000000" text-anchor="end" >RUN_INT</text>
<text x="784.4" y="561.7" font-family="'Liberation Serif', serif" font-size="12.2" fill="#000000" text-anchor="end" >3</text>
<text x="966.4" y="561.7" font-family="'Liberation Serif', serif" font-size="12.2" fill="#000000" text-anchor="start" >14</text>
<line x1="752.0" y1="593.1" x2="796.0" y2="593.1" stroke="#000000" stroke-width="1.5" />
<line x1="953.4" y1="593.1" x2="997.0" y2="593.1" stroke="#000000" stroke-width="1.5" />
<text x="805.5" y="597.4" font-family="'Liberation Serif', serif" font-size="12.2" fill="#000000" text-anchor="start" >CAN1L</text>
<text x="943.8" y="597.4" font-family="'Liberation Serif', serif" font-size="12.2" fill="#000000" text-anchor="end" >RESET</text>
<text x="784.4" y="590.5" font-family="'Liberation Serif', serif" font-size="12.2" fill="#000000" text-anchor="end" >4</text>
<text x="966.4" y="590.5" font-family="'Liberation Serif', serif" font-size="12.2" fill="#000000" text-anchor="start" >13</text>
<line x1="752.0" y1="621.8" x2="796.0" y2="621.8" stroke="#000000" stroke-width="1.5" />
<line x1="953.4" y1="621.8" x2="997.0" y2="621.8" stroke="#000000" stroke-width="1.5" />
<text x="805.5" y="626.1" font-family="'Liberation Serif', serif" font-size="12.2" fill="#000000" text-anchor="start" >CAN1H</text>
<text x="943.8" y="626.1" font-family="'Liberation Serif', serif" font-size="12.2" fill="#000000" text-anchor="end" >RXD</text>
<text x="784.4" y="619.2" font-family="'Liberation Serif', serif" font-size="12.2" fill="#000000" text-anchor="end" >5</text>
<text x="966.4" y="619.2" font-family="'Liberation Serif', serif" font-size="12.2" fill="#000000" text-anchor="start" >12</text>
<line x1="752.0" y1="650.6" x2="796.0" y2="650.6" stroke="#000000" stroke-width="1.5" />
<line x1="953.4" y1="650.6" x2="997.0" y2="650.6" stroke="#000000" stroke-width="1.5" />
<text x="805.5" y="654.9" font-family="'Liberation Serif', serif" font-size="12.2" fill="#000000" text-anchor="start" >GND</text>
<text x="943.8" y="654.9" font-family="'Liberation Serif', serif" font-size="12.2" fill="#000000" text-anchor="end" >TXD</text>
<text x="784.4" y="648.0" font-family="'Liberation Serif', serif" font-size="12.2" fill="#000000" text-anchor="end" >6</text>
<text x="966.4" y="648.0" font-family="'Liberation Serif', serif" font-size="12.2" fill="#000000" text-anchor="start" >11</text>
<line x1="752.0" y1="679.4" x2="796.0" y2="679.4" stroke="#000000" stroke-width="1.5" />
<line x1="953.4" y1="679.4" x2="997.0" y2="679.4" stroke="#000000" stroke-width="1.5" />
<text x="805.5" y="683.7" font-family="'Liberation Serif', serif" font-size="12.2" fill="#000000" text-anchor="start" >CAN2L</text>
<text x="943.8" y="683.7" font-family="'Liberation Serif', serif" font-size="12.2" fill="#000000" text-anchor="end" >GND</text>
<text x="784.4" y="676.8" font-family="'Liberation Serif', serif" font-size="12.2" fill="#000000" text-anchor="end" >7</text>
<text x="966.4" y="676.8" font-family="'Liberation Serif', serif" font-size="12.2" fill="#000000" text-anchor="start" >10</text>
<line x1="752.0" y1="708.1" x2="796.0" y2="708.1" stroke="#000000" stroke-width="1.5" />
<line x1="953.4" y1="708.1" x2="997.0" y2="708.1" stroke="#000000" stroke-width="1.5" />
<text x="805.5" y="712.4" font-family="'Liberation Serif', serif" font-size="12.2" fill="#000000" text-anchor="start" >CAN2H</text>
<text x="943.8" y="712.4" font-family="'Liberation Serif', serif" font-size="12.2" fill="#000000" text-anchor="end" >GND</text>
<text x="784.4" y="705.5" font-family="'Liberation Serif', serif" font-size="12.2" fill="#000000" text-anchor="end" >8</text>
<text x="966.4" y="705.5" font-family="'Liberation Serif', serif" font-size="12.2" fill="#000000" text-anchor="start" >9</text>
<line x1="906.3" y1="585.9" x2="943.8" y2="585.9" stroke="#000000" stroke-width="1.1" />
<text x="703.2" y="490.4" font-family="'Liberation Serif', serif" font-size="12.2" fill="#800000" text-anchor="start" >+VBAT</text>
<line x1="715.8" y1="493.0" x2="731.2" y2="493.0" stroke="#800000" stroke-width="1.35" />
<line x1="723.5" y1="493.0" x2="723.5" y2="506.8" stroke="#800000" stroke-width="1.5" />
<line x1="723.5" y1="506.8" x2="752.0" y2="506.8" stroke="#000080" stroke-width="1.5" />
<text x="985.6" y="490.4" font-family="'Liberation Serif', serif" font-size="12.2" fill="#800000" text-anchor="start" >+5V</text>
<line x1="989.7" y1="493.0" x2="1005.1" y2="493.0" stroke="#800000" stroke-width="1.35" />
<line x1="997.4" y1="493.0" x2="997.4" y2="506.8" stroke="#800000" stroke-width="1.5" />
<polyline points="670.0,556.7 662.2,564.3 670.0,571.9" stroke="#D81E26" stroke-width="1.35" fill="none" stroke-linejoin="miter"/>
<polyline points="677.6,556.7 669.8,564.3 677.6,571.9" stroke="#D81E26" stroke-width="1.35" fill="none" stroke-linejoin="miter"/>
<line x1="669.8" y1="564.3" x2="678.1" y2="564.3" stroke="#D81E26" stroke-width="1.35" />
<line x1="679.0" y1="564.3" x2="752.0" y2="564.3" stroke="#000080" stroke-width="1.5" />
<text x="660.0" y="568.6" font-family="'Liberation Serif', serif" font-size="12.4" fill="#D81E26" text-anchor="end" >KLINE</text>
<polyline points="670.0,585.5 662.2,593.1 670.0,600.7" stroke="#D81E26" stroke-width="1.35" fill="none" stroke-linejoin="miter"/>
<polyline points="677.6,585.5 669.8,593.1 677.6,600.7" stroke="#D81E26" stroke-width="1.35" fill="none" stroke-linejoin="miter"/>
<line x1="669.8" y1="593.1" x2="678.1" y2="593.1" stroke="#D81E26" stroke-width="1.35" />
<line x1="679.0" y1="593.1" x2="752.0" y2="593.1" stroke="#000080" stroke-width="1.5" />
<text x="660.0" y="597.4" font-family="'Liberation Serif', serif" font-size="12.4" fill="#D81E26" text-anchor="end" >CAN1L</text>
<polyline points="670.0,614.2 662.2,621.8 670.0,629.4" stroke="#D81E26" stroke-width="1.35" fill="none" stroke-linejoin="miter"/>
<polyline points="677.6,614.2 669.8,621.8 677.6,629.4" stroke="#D81E26" stroke-width="1.35" fill="none" stroke-linejoin="miter"/>
<line x1="669.8" y1="621.8" x2="678.1" y2="621.8" stroke="#D81E26" stroke-width="1.35" />
<line x1="679.0" y1="621.8" x2="752.0" y2="621.8" stroke="#000080" stroke-width="1.5" />
<text x="660.0" y="626.1" font-family="'Liberation Serif', serif" font-size="12.4" fill="#D81E26" text-anchor="end" >CAN1H</text>
<polyline points="670.0,671.8 662.2,679.4 670.0,687.0" stroke="#D81E26" stroke-width="1.35" fill="none" stroke-linejoin="miter"/>
<polyline points="677.6,671.8 669.8,679.4 677.6,687.0" stroke="#D81E26" stroke-width="1.35" fill="none" stroke-linejoin="miter"/>
<line x1="669.8" y1="679.4" x2="678.1" y2="679.4" stroke="#D81E26" stroke-width="1.35" />
<line x1="679.0" y1="679.4" x2="752.0" y2="679.4" stroke="#000080" stroke-width="1.5" />
<text x="660.0" y="683.7" font-family="'Liberation Serif', serif" font-size="12.4" fill="#D81E26" text-anchor="end" >CAN2L</text>
<polyline points="670.0,700.5 662.2,708.1 670.0,715.7" stroke="#D81E26" stroke-width="1.35" fill="none" stroke-linejoin="miter"/>
<polyline points="677.6,700.5 669.8,708.1 677.6,715.7" stroke="#D81E26" stroke-width="1.35" fill="none" stroke-linejoin="miter"/>
<line x1="669.8" y1="708.1" x2="678.1" y2="708.1" stroke="#D81E26" stroke-width="1.35" />
<line x1="679.0" y1="708.1" x2="752.0" y2="708.1" stroke="#000080" stroke-width="1.5" />
<text x="660.0" y="712.4" font-family="'Liberation Serif', serif" font-size="12.4" fill="#D81E26" text-anchor="end" >CAN2H</text>
<line x1="737.7" y1="635.6" x2="737.7" y2="665.6" stroke="#800000" stroke-width="1.35" />
<line x1="733.5" y1="639.6" x2="733.5" y2="661.6" stroke="#800000" stroke-width="1.35" />
<line x1="729.3" y1="643.6" x2="729.3" y2="657.6" stroke="#800000" stroke-width="1.35" />
<line x1="725.3" y1="648.1" x2="725.3" y2="653.1" stroke="#800000" stroke-width="1.35" />
<line x1="737.7" y1="650.6" x2="752.0" y2="650.6" stroke="#800000" stroke-width="1.5" />
<line x1="997.0" y1="535.6" x2="1098.0" y2="535.6" stroke="#000080" stroke-width="1.5" />
<text x="1055.0" y="532.1" font-family="'Liberation Serif', serif" font-size="12.2" fill="#800000" text-anchor="start" >STATUS</text>
<line x1="997.0" y1="564.3" x2="1098.0" y2="564.3" stroke="#000080" stroke-width="1.5" />
<text x="1055.0" y="560.8" font-family="'Liberation Serif', serif" font-size="12.2" fill="#800000" text-anchor="start" >RUN_INT</text>
<line x1="997.0" y1="593.1" x2="1098.0" y2="593.1" stroke="#000080" stroke-width="1.5" />
<text x="1055.0" y="589.6" font-family="'Liberation Serif', serif" font-size="12.2" fill="#800000" text-anchor="start" >RESET</text>
<line x1="997.0" y1="621.8" x2="1071.0" y2="621.8" stroke="#000080" stroke-width="1.5" />
<polyline points="1078.8,614.2 1071.0,621.8 1078.8,629.4" stroke="#D81E26" stroke-width="1.35" fill="none" stroke-linejoin="miter"/>
<polyline points="1086.4,614.2 1078.6,621.8 1086.4,629.4" stroke="#D81E26" stroke-width="1.35" fill="none" stroke-linejoin="miter"/>
<text x="1089.0" y="626.1" font-family="'Liberation Serif', serif" font-size="12.4" fill="#D81E26" text-anchor="start" >EST580_RX</text>
<line x1="997.0" y1="650.6" x2="1071.0" y2="650.6" stroke="#000080" stroke-width="1.5" />
<polyline points="1078.8,643.0 1071.0,650.6 1078.8,658.2" stroke="#D81E26" stroke-width="1.35" fill="none" stroke-linejoin="miter"/>
<polyline points="1086.4,643.0 1078.6,650.6 1086.4,658.2" stroke="#D81E26" stroke-width="1.35" fill="none" stroke-linejoin="miter"/>
<text x="1089.0" y="654.9" font-family="'Liberation Serif', serif" font-size="12.4" fill="#D81E26" text-anchor="start" >EST580_TX</text>
<line x1="997.0" y1="679.4" x2="1011.6" y2="679.4" stroke="#000080" stroke-width="1.5" />
<line x1="1011.6" y1="679.4" x2="1011.6" y2="736.5" stroke="#000080" stroke-width="1.5" />
<line x1="1011.6" y1="736.5" x2="1011.6" y2="750.7" stroke="#800000" stroke-width="1.4" />
<line x1="997.0" y1="708.1" x2="1011.6" y2="708.1" stroke="#000080" stroke-width="1.5" />
<circle cx="1011.6" cy="708.1" r="3.1" fill="#000080"/>
<line x1="996.6" y1="750.7" x2="1026.6" y2="750.7" stroke="#800000" stroke-width="1.35" />
<line x1="1000.6" y1="755.2" x2="1022.6" y2="755.2" stroke="#800000" stroke-width="1.35" />
<line x1="1004.6" y1="759.7" x2="1018.6" y2="759.7" stroke="#800000" stroke-width="1.35" />
<line x1="1009.1" y1="763.7" x2="1014.1" y2="763.7" stroke="#800000" stroke-width="1.35" />
<line x1="795.7" y1="807.7" x2="795.7" y2="837.7" stroke="#800000" stroke-width="1.35" />
<line x1="791.5" y1="811.7" x2="791.5" y2="833.7" stroke="#800000" stroke-width="1.35" />
<line x1="787.3" y1="815.7" x2="787.3" y2="829.7" stroke="#800000" stroke-width="1.35" />
<line x1="783.3" y1="820.2" x2="783.3" y2="825.2" stroke="#800000" stroke-width="1.35" />
<line x1="795.7" y1="822.7" x2="809.4" y2="822.7" stroke="#800000" stroke-width="1.5" />
<line x1="809.4" y1="822.7" x2="840.0" y2="822.7" stroke="#000080" stroke-width="1.5" />
<line x1="840.0" y1="822.7" x2="844.3" y2="822.7" stroke="#000000" stroke-width="1.5" />
<line x1="875.5" y1="822.7" x2="881.6" y2="822.7" stroke="#000000" stroke-width="1.5" />
<circle cx="848.5" cy="822.7" r="4.2" fill="none" stroke="#000000" stroke-width="1.5"/>
<circle cx="871.2" cy="822.7" r="4.2" fill="none" stroke="#000000" stroke-width="1.5"/>
<polygon points="845.5,811.4 874.9,811.4 874.9,816.0 845.5,816.0" stroke="#0000FF" stroke-width="1.5" fill="none" stroke-linejoin="miter"/>
<polyline points="855.9,811.4 855.9,807.1 864.5,807.1 864.5,811.4" stroke="#0000FF" stroke-width="1.5" fill="none" stroke-linejoin="miter"/>
<line x1="881.6" y1="822.7" x2="968.5" y2="822.7" stroke="#000080" stroke-width="1.5" />
<text x="845.0" y="802.9" font-family="'Liberation Serif', serif" font-size="12.2" fill="#000080" text-anchor="start" >RESET</text>
<text x="925.7" y="820.6" font-family="'Liberation Serif', serif" font-size="12.2" fill="#800000" text-anchor="start" >RESET</text>
<polyline points="593.4,981.3 607.9,995.4 622.4,981.3" stroke="#0000FF" stroke-width="1.5" fill="none" stroke-linejoin="miter"/>
<line x1="607.9" y1="995.4" x2="607.9" y2="1024.7" stroke="#000000" stroke-width="1.5" />
<text x="609.2" y="1022.3" font-family="'Liberation Serif', serif" font-size="12.2" fill="#000080" text-anchor="start" >H1</text>
<polyline points="622.7,981.3 637.2,995.4 651.7,981.3" stroke="#0000FF" stroke-width="1.5" fill="none" stroke-linejoin="miter"/>
<line x1="637.2" y1="995.4" x2="637.2" y2="1024.7" stroke="#000000" stroke-width="1.5" />
<text x="638.5" y="1022.3" font-family="'Liberation Serif', serif" font-size="12.2" fill="#000080" text-anchor="start" >H2</text>
<polyline points="651.3,981.3 665.8,995.4 680.3,981.3" stroke="#0000FF" stroke-width="1.5" fill="none" stroke-linejoin="miter"/>
<line x1="665.8" y1="995.4" x2="665.8" y2="1024.7" stroke="#000000" stroke-width="1.5" />
<text x="667.1" y="1022.3" font-family="'Liberation Serif', serif" font-size="12.2" fill="#000080" text-anchor="start" >H3</text>
<polyline points="680.5,981.3 695.0,995.4 709.5,981.3" stroke="#0000FF" stroke-width="1.5" fill="none" stroke-linejoin="miter"/>
<line x1="695.0" y1="995.4" x2="695.0" y2="1024.7" stroke="#000000" stroke-width="1.5" />
<text x="696.3" y="1022.3" font-family="'Liberation Serif', serif" font-size="12.2" fill="#000080" text-anchor="start" >H4</text>
<polyline points="752.3,981.3 766.8,995.4 781.3,981.3" stroke="#0000FF" stroke-width="1.5" fill="none" stroke-linejoin="miter"/>
<line x1="766.8" y1="995.4" x2="766.8" y2="1025.0" stroke="#000000" stroke-width="1.5" />
<line x1="766.8" y1="1025.0" x2="766.8" y2="1038.5" stroke="#800000" stroke-width="1.5" />
<line x1="760.0" y1="1038.5" x2="773.6" y2="1038.5" stroke="#800000" stroke-width="1.35" />
<text x="766.8" y="1050.0" font-family="'Liberation Serif', serif" font-size="12.2" fill="#800000" text-anchor="middle" >+5V</text>
<text x="781.2" y="1022.3" font-family="'Liberation Serif', serif" font-size="12.2" fill="#000080" text-anchor="start" >test4</text>
<polyline points="809.5,981.3 824.0,995.4 838.5,981.3" stroke="#0000FF" stroke-width="1.5" fill="none" stroke-linejoin="miter"/>
<line x1="824.0" y1="995.4" x2="824.0" y2="1024.7" stroke="#000000" stroke-width="1.5" />
<line x1="824.0" y1="1024.7" x2="824.0" y2="1052.6" stroke="#000080" stroke-width="1.5" />
<text x="820.2" y="1052.5" font-family="'Liberation Serif', serif" font-size="13" fill="#800000" text-anchor="start" transform="rotate(-90 820.2 1052.5)" textLength="48.5" lengthAdjust="spacing" >STATUS</text>
<text x="839.0" y="1022.3" font-family="'Liberation Serif', serif" font-size="12.2" fill="#000080" text-anchor="start" >test2</text>
<polyline points="867.4,981.3 881.9,995.4 896.4,981.3" stroke="#0000FF" stroke-width="1.5" fill="none" stroke-linejoin="miter"/>
<line x1="881.9" y1="995.4" x2="881.9" y2="1024.7" stroke="#000000" stroke-width="1.5" />
<line x1="881.9" y1="1024.7" x2="881.9" y2="1052.6" stroke="#000080" stroke-width="1.5" />
<text x="879.8" y="1052.5" font-family="'Liberation Serif', serif" font-size="13" fill="#800000" text-anchor="start" transform="rotate(-90 879.8 1052.5)" textLength="56" lengthAdjust="spacing" >RUN_INT</text>
<text x="896.3" y="1022.3" font-family="'Liberation Serif', serif" font-size="12.2" fill="#000080" text-anchor="start" >test3</text>
<polyline points="924.9,981.3 939.4,995.4 953.9,981.3" stroke="#0000FF" stroke-width="1.5" fill="none" stroke-linejoin="miter"/>
<line x1="939.4" y1="995.4" x2="939.4" y2="1024.7" stroke="#000000" stroke-width="1.5" />
<line x1="939.4" y1="1024.7" x2="939.4" y2="1038.5" stroke="#800000" stroke-width="1.5" />
<line x1="924.4" y1="1038.5" x2="954.4" y2="1038.5" stroke="#800000" stroke-width="1.35" />
<line x1="928.4" y1="1043.0" x2="950.4" y2="1043.0" stroke="#800000" stroke-width="1.35" />
<line x1="932.4" y1="1047.5" x2="946.4" y2="1047.5" stroke="#800000" stroke-width="1.35" />
<line x1="936.9" y1="1051.5" x2="941.9" y2="1051.5" stroke="#800000" stroke-width="1.35" />
<text x="939.4" y="1022.3" font-family="'Liberation Serif', serif" font-size="12.2" fill="#000080" text-anchor="start" >test1</text>
<rect x="1127.0" y="952.0" width="503.0" height="115.0" stroke="#000000" stroke-width="1.5" fill="none"/>
<line x1="1127.0" y1="996.0" x2="1630.0" y2="996.0" stroke="#000000" stroke-width="1.3" />
<line x1="1127.0" y1="1038.5" x2="1630.0" y2="1038.5" stroke="#000000" stroke-width="1.3" />
<line x1="1127.0" y1="1053.0" x2="1630.0" y2="1053.0" stroke="#000000" stroke-width="1.3" />
<line x1="1198.6" y1="996.0" x2="1198.6" y2="1038.5" stroke="#000000" stroke-width="1.3" />
<line x1="1486.5" y1="996.0" x2="1486.5" y2="1038.5" stroke="#000000" stroke-width="1.3" />
<line x1="1414.7" y1="1038.5" x2="1414.7" y2="1067.0" stroke="#000000" stroke-width="1.3" />
<text x="1134.0" y="963.6" font-family="'Liberation Serif', serif" font-size="12.5" fill="#000000" text-anchor="start" >Title</text>
<text x="1198.6" y="979.0" font-family="'Liberation Sans', sans-serif" font-size="15" fill="#000080" text-anchor="start" >EST580_开发板原理图</text>
<text x="1134.0" y="1007.0" font-family="'Liberation Serif', serif" font-size="12.5" fill="#000000" text-anchor="start" >Size</text>
<text x="1205.9" y="1007.0" font-family="'Liberation Serif', serif" font-size="12.5" fill="#000000" text-anchor="start" >Number</text>
<text x="1493.7" y="1007.0" font-family="'Liberation Serif', serif" font-size="12.5" fill="#000000" text-anchor="start" >Revision</text>
<text x="1142.0" y="1029.0" font-family="'Liberation Serif', serif" font-size="12.5" fill="#000000" text-anchor="start" >A4</text>
<text x="1134.0" y="1050.0" font-family="'Liberation Serif', serif" font-size="12.5" fill="#000000" text-anchor="start" >Date:</text>
<text x="1198.6" y="1050.0" font-family="'Liberation Serif', serif" font-size="12.5" fill="#000000" text-anchor="start" >2021/1/12</text>
<text x="1422.0" y="1050.0" font-family="'Liberation Serif', serif" font-size="12.5" fill="#000000" text-anchor="start" >Sheet</text>
<text x="1462.9" y="1050.0" font-family="'Liberation Serif', serif" font-size="12.5" fill="#000000" text-anchor="start" >of</text>
<text x="1134.0" y="1064.3" font-family="'Liberation Serif', serif" font-size="12.5" fill="#000000" text-anchor="start" >File:</text>
<text x="1198.6" y="1064.3" font-family="'Liberation Serif', serif" font-size="12.5" fill="#000000" text-anchor="start" >F:\TBOX\..\EST580_DVLP_201217.SchDoc</text>
<text x="1422.6" y="1064.3" font-family="'Liberation Serif', serif" font-size="12.5" fill="#000000" text-anchor="start" >Drawn By:</text>
</svg></body></html>
